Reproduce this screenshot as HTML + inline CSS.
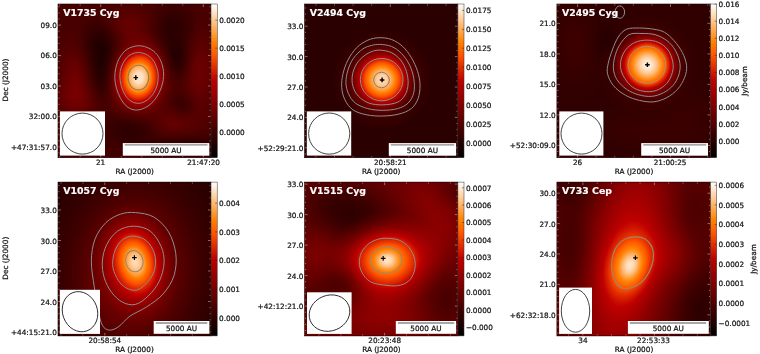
<!DOCTYPE html>
<html><head><meta charset="utf-8"><title>FUor continuum maps</title>
<style>html,body{margin:0;padding:0;background:#fff}svg{display:block}text{font-family:"DejaVu Sans", "Liberation Sans", sans-serif;stroke:#111;stroke-width:0.22px}text.w{stroke:#fff;stroke-width:0.15px}</style></head>
<body><svg width="760" height="354" viewBox="0 0 760 354">
<defs><clipPath id="c0"><rect x="58.0" y="4" width="153.0" height="153.7"/></clipPath><radialGradient id="g1" cx="0" cy="0" r="3" gradientUnits="userSpaceOnUse"><stop offset="0.0000" stop-color="#fff" stop-opacity="0.1300"/><stop offset="0.0333" stop-color="#fff" stop-opacity="0.1294"/><stop offset="0.0667" stop-color="#fff" stop-opacity="0.1274"/><stop offset="0.1000" stop-color="#fff" stop-opacity="0.1243"/><stop offset="0.1333" stop-color="#fff" stop-opacity="0.1200"/><stop offset="0.1667" stop-color="#fff" stop-opacity="0.1147"/><stop offset="0.2000" stop-color="#fff" stop-opacity="0.1086"/><stop offset="0.2333" stop-color="#fff" stop-opacity="0.1018"/><stop offset="0.2667" stop-color="#fff" stop-opacity="0.0944"/><stop offset="0.3000" stop-color="#fff" stop-opacity="0.0867"/><stop offset="0.3333" stop-color="#fff" stop-opacity="0.0788"/><stop offset="0.3667" stop-color="#fff" stop-opacity="0.0710"/><stop offset="0.4000" stop-color="#fff" stop-opacity="0.0633"/><stop offset="0.4333" stop-color="#fff" stop-opacity="0.0558"/><stop offset="0.4667" stop-color="#fff" stop-opacity="0.0488"/><stop offset="0.5000" stop-color="#fff" stop-opacity="0.0422"/><stop offset="0.5333" stop-color="#fff" stop-opacity="0.0361"/><stop offset="0.5667" stop-color="#fff" stop-opacity="0.0306"/><stop offset="0.6000" stop-color="#fff" stop-opacity="0.0257"/><stop offset="0.6333" stop-color="#fff" stop-opacity="0.0214"/><stop offset="0.6667" stop-color="#fff" stop-opacity="0.0176"/><stop offset="0.7000" stop-color="#fff" stop-opacity="0.0143"/><stop offset="0.7333" stop-color="#fff" stop-opacity="0.0116"/><stop offset="0.7667" stop-color="#fff" stop-opacity="0.0092"/><stop offset="0.8000" stop-color="#fff" stop-opacity="0.0073"/><stop offset="0.8333" stop-color="#fff" stop-opacity="0.0057"/><stop offset="0.8667" stop-color="#fff" stop-opacity="0.0044"/><stop offset="0.9000" stop-color="#fff" stop-opacity="0.0034"/><stop offset="0.9333" stop-color="#fff" stop-opacity="0.0026"/><stop offset="0.9667" stop-color="#fff" stop-opacity="0.0019"/><stop offset="1.0000" stop-color="#fff" stop-opacity="0.0000"/></radialGradient><radialGradient id="g2" cx="0" cy="0" r="3" gradientUnits="userSpaceOnUse"><stop offset="0.0000" stop-color="#fff" stop-opacity="0.1100"/><stop offset="0.0333" stop-color="#fff" stop-opacity="0.1095"/><stop offset="0.0667" stop-color="#fff" stop-opacity="0.1078"/><stop offset="0.1000" stop-color="#fff" stop-opacity="0.1052"/><stop offset="0.1333" stop-color="#fff" stop-opacity="0.1015"/><stop offset="0.1667" stop-color="#fff" stop-opacity="0.0971"/><stop offset="0.2000" stop-color="#fff" stop-opacity="0.0919"/><stop offset="0.2333" stop-color="#fff" stop-opacity="0.0861"/><stop offset="0.2667" stop-color="#fff" stop-opacity="0.0799"/><stop offset="0.3000" stop-color="#fff" stop-opacity="0.0734"/><stop offset="0.3333" stop-color="#fff" stop-opacity="0.0667"/><stop offset="0.3667" stop-color="#fff" stop-opacity="0.0601"/><stop offset="0.4000" stop-color="#fff" stop-opacity="0.0535"/><stop offset="0.4333" stop-color="#fff" stop-opacity="0.0473"/><stop offset="0.4667" stop-color="#fff" stop-opacity="0.0413"/><stop offset="0.5000" stop-color="#fff" stop-opacity="0.0357"/><stop offset="0.5333" stop-color="#fff" stop-opacity="0.0306"/><stop offset="0.5667" stop-color="#fff" stop-opacity="0.0259"/><stop offset="0.6000" stop-color="#fff" stop-opacity="0.0218"/><stop offset="0.6333" stop-color="#fff" stop-opacity="0.0181"/><stop offset="0.6667" stop-color="#fff" stop-opacity="0.0149"/><stop offset="0.7000" stop-color="#fff" stop-opacity="0.0121"/><stop offset="0.7333" stop-color="#fff" stop-opacity="0.0098"/><stop offset="0.7667" stop-color="#fff" stop-opacity="0.0078"/><stop offset="0.8000" stop-color="#fff" stop-opacity="0.0062"/><stop offset="0.8333" stop-color="#fff" stop-opacity="0.0048"/><stop offset="0.8667" stop-color="#fff" stop-opacity="0.0037"/><stop offset="0.9000" stop-color="#fff" stop-opacity="0.0029"/><stop offset="0.9333" stop-color="#fff" stop-opacity="0.0022"/><stop offset="0.9667" stop-color="#fff" stop-opacity="0.0016"/><stop offset="1.0000" stop-color="#fff" stop-opacity="0.0000"/></radialGradient><radialGradient id="g3" cx="0" cy="0" r="3" gradientUnits="userSpaceOnUse"><stop offset="0.0000" stop-color="#fff" stop-opacity="0.1200"/><stop offset="0.0333" stop-color="#fff" stop-opacity="0.1194"/><stop offset="0.0667" stop-color="#fff" stop-opacity="0.1176"/><stop offset="0.1000" stop-color="#fff" stop-opacity="0.1147"/><stop offset="0.1333" stop-color="#fff" stop-opacity="0.1108"/><stop offset="0.1667" stop-color="#fff" stop-opacity="0.1059"/><stop offset="0.2000" stop-color="#fff" stop-opacity="0.1002"/><stop offset="0.2333" stop-color="#fff" stop-opacity="0.0939"/><stop offset="0.2667" stop-color="#fff" stop-opacity="0.0871"/><stop offset="0.3000" stop-color="#fff" stop-opacity="0.0800"/><stop offset="0.3333" stop-color="#fff" stop-opacity="0.0728"/><stop offset="0.3667" stop-color="#fff" stop-opacity="0.0655"/><stop offset="0.4000" stop-color="#fff" stop-opacity="0.0584"/><stop offset="0.4333" stop-color="#fff" stop-opacity="0.0515"/><stop offset="0.4667" stop-color="#fff" stop-opacity="0.0450"/><stop offset="0.5000" stop-color="#fff" stop-opacity="0.0390"/><stop offset="0.5333" stop-color="#fff" stop-opacity="0.0334"/><stop offset="0.5667" stop-color="#fff" stop-opacity="0.0283"/><stop offset="0.6000" stop-color="#fff" stop-opacity="0.0237"/><stop offset="0.6333" stop-color="#fff" stop-opacity="0.0197"/><stop offset="0.6667" stop-color="#fff" stop-opacity="0.0162"/><stop offset="0.7000" stop-color="#fff" stop-opacity="0.0132"/><stop offset="0.7333" stop-color="#fff" stop-opacity="0.0107"/><stop offset="0.7667" stop-color="#fff" stop-opacity="0.0085"/><stop offset="0.8000" stop-color="#fff" stop-opacity="0.0067"/><stop offset="0.8333" stop-color="#fff" stop-opacity="0.0053"/><stop offset="0.8667" stop-color="#fff" stop-opacity="0.0041"/><stop offset="0.9000" stop-color="#fff" stop-opacity="0.0031"/><stop offset="0.9333" stop-color="#fff" stop-opacity="0.0024"/><stop offset="0.9667" stop-color="#fff" stop-opacity="0.0018"/><stop offset="1.0000" stop-color="#fff" stop-opacity="0.0000"/></radialGradient><radialGradient id="g4" cx="0" cy="0" r="3" gradientUnits="userSpaceOnUse"><stop offset="0.0000" stop-color="#fff" stop-opacity="0.1000"/><stop offset="0.0333" stop-color="#fff" stop-opacity="0.0995"/><stop offset="0.0667" stop-color="#fff" stop-opacity="0.0980"/><stop offset="0.1000" stop-color="#fff" stop-opacity="0.0956"/><stop offset="0.1333" stop-color="#fff" stop-opacity="0.0923"/><stop offset="0.1667" stop-color="#fff" stop-opacity="0.0882"/><stop offset="0.2000" stop-color="#fff" stop-opacity="0.0835"/><stop offset="0.2333" stop-color="#fff" stop-opacity="0.0783"/><stop offset="0.2667" stop-color="#fff" stop-opacity="0.0726"/><stop offset="0.3000" stop-color="#fff" stop-opacity="0.0667"/><stop offset="0.3333" stop-color="#fff" stop-opacity="0.0607"/><stop offset="0.3667" stop-color="#fff" stop-opacity="0.0546"/><stop offset="0.4000" stop-color="#fff" stop-opacity="0.0487"/><stop offset="0.4333" stop-color="#fff" stop-opacity="0.0430"/><stop offset="0.4667" stop-color="#fff" stop-opacity="0.0375"/><stop offset="0.5000" stop-color="#fff" stop-opacity="0.0325"/><stop offset="0.5333" stop-color="#fff" stop-opacity="0.0278"/><stop offset="0.5667" stop-color="#fff" stop-opacity="0.0236"/><stop offset="0.6000" stop-color="#fff" stop-opacity="0.0198"/><stop offset="0.6333" stop-color="#fff" stop-opacity="0.0164"/><stop offset="0.6667" stop-color="#fff" stop-opacity="0.0135"/><stop offset="0.7000" stop-color="#fff" stop-opacity="0.0110"/><stop offset="0.7333" stop-color="#fff" stop-opacity="0.0089"/><stop offset="0.7667" stop-color="#fff" stop-opacity="0.0071"/><stop offset="0.8000" stop-color="#fff" stop-opacity="0.0056"/><stop offset="0.8333" stop-color="#fff" stop-opacity="0.0044"/><stop offset="0.8667" stop-color="#fff" stop-opacity="0.0034"/><stop offset="0.9000" stop-color="#fff" stop-opacity="0.0026"/><stop offset="0.9333" stop-color="#fff" stop-opacity="0.0020"/><stop offset="0.9667" stop-color="#fff" stop-opacity="0.0015"/><stop offset="1.0000" stop-color="#fff" stop-opacity="0.0000"/></radialGradient><radialGradient id="g5" cx="0" cy="0" r="3" gradientUnits="userSpaceOnUse"><stop offset="0.0000" stop-color="#fff" stop-opacity="0.0700"/><stop offset="0.0333" stop-color="#fff" stop-opacity="0.0697"/><stop offset="0.0667" stop-color="#fff" stop-opacity="0.0686"/><stop offset="0.1000" stop-color="#fff" stop-opacity="0.0669"/><stop offset="0.1333" stop-color="#fff" stop-opacity="0.0646"/><stop offset="0.1667" stop-color="#fff" stop-opacity="0.0618"/><stop offset="0.2000" stop-color="#fff" stop-opacity="0.0585"/><stop offset="0.2333" stop-color="#fff" stop-opacity="0.0548"/><stop offset="0.2667" stop-color="#fff" stop-opacity="0.0508"/><stop offset="0.3000" stop-color="#fff" stop-opacity="0.0467"/><stop offset="0.3333" stop-color="#fff" stop-opacity="0.0425"/><stop offset="0.3667" stop-color="#fff" stop-opacity="0.0382"/><stop offset="0.4000" stop-color="#fff" stop-opacity="0.0341"/><stop offset="0.4333" stop-color="#fff" stop-opacity="0.0301"/><stop offset="0.4667" stop-color="#fff" stop-opacity="0.0263"/><stop offset="0.5000" stop-color="#fff" stop-opacity="0.0227"/><stop offset="0.5333" stop-color="#fff" stop-opacity="0.0195"/><stop offset="0.5667" stop-color="#fff" stop-opacity="0.0165"/><stop offset="0.6000" stop-color="#fff" stop-opacity="0.0139"/><stop offset="0.6333" stop-color="#fff" stop-opacity="0.0115"/><stop offset="0.6667" stop-color="#fff" stop-opacity="0.0095"/><stop offset="0.7000" stop-color="#fff" stop-opacity="0.0077"/><stop offset="0.7333" stop-color="#fff" stop-opacity="0.0062"/><stop offset="0.7667" stop-color="#fff" stop-opacity="0.0050"/><stop offset="0.8000" stop-color="#fff" stop-opacity="0.0039"/><stop offset="0.8333" stop-color="#fff" stop-opacity="0.0031"/><stop offset="0.8667" stop-color="#fff" stop-opacity="0.0024"/><stop offset="0.9000" stop-color="#fff" stop-opacity="0.0018"/><stop offset="0.9333" stop-color="#fff" stop-opacity="0.0014"/><stop offset="0.9667" stop-color="#fff" stop-opacity="0.0010"/><stop offset="1.0000" stop-color="#fff" stop-opacity="0.0000"/></radialGradient><radialGradient id="g6" cx="0" cy="0" r="3" gradientUnits="userSpaceOnUse"><stop offset="0.0000" stop-color="#000" stop-opacity="0.5000"/><stop offset="0.0333" stop-color="#000" stop-opacity="0.4975"/><stop offset="0.0667" stop-color="#000" stop-opacity="0.4901"/><stop offset="0.1000" stop-color="#000" stop-opacity="0.4780"/><stop offset="0.1333" stop-color="#000" stop-opacity="0.4616"/><stop offset="0.1667" stop-color="#000" stop-opacity="0.4412"/><stop offset="0.2000" stop-color="#000" stop-opacity="0.4176"/><stop offset="0.2333" stop-color="#000" stop-opacity="0.3914"/><stop offset="0.2667" stop-color="#000" stop-opacity="0.3631"/><stop offset="0.3000" stop-color="#000" stop-opacity="0.3335"/><stop offset="0.3333" stop-color="#000" stop-opacity="0.3033"/><stop offset="0.3667" stop-color="#000" stop-opacity="0.2730"/><stop offset="0.4000" stop-color="#000" stop-opacity="0.2434"/><stop offset="0.4333" stop-color="#000" stop-opacity="0.2148"/><stop offset="0.4667" stop-color="#000" stop-opacity="0.1877"/><stop offset="0.5000" stop-color="#000" stop-opacity="0.1623"/><stop offset="0.5333" stop-color="#000" stop-opacity="0.1390"/><stop offset="0.5667" stop-color="#000" stop-opacity="0.1179"/><stop offset="0.6000" stop-color="#000" stop-opacity="0.0989"/><stop offset="0.6333" stop-color="#000" stop-opacity="0.0822"/><stop offset="0.6667" stop-color="#000" stop-opacity="0.0677"/><stop offset="0.7000" stop-color="#000" stop-opacity="0.0551"/><stop offset="0.7333" stop-color="#000" stop-opacity="0.0445"/><stop offset="0.7667" stop-color="#000" stop-opacity="0.0355"/><stop offset="0.8000" stop-color="#000" stop-opacity="0.0281"/><stop offset="0.8333" stop-color="#000" stop-opacity="0.0220"/><stop offset="0.8667" stop-color="#000" stop-opacity="0.0170"/><stop offset="0.9000" stop-color="#000" stop-opacity="0.0131"/><stop offset="0.9333" stop-color="#000" stop-opacity="0.0099"/><stop offset="0.9667" stop-color="#000" stop-opacity="0.0075"/><stop offset="1.0000" stop-color="#000" stop-opacity="0.0000"/></radialGradient><radialGradient id="g7" cx="0" cy="0" r="3" gradientUnits="userSpaceOnUse"><stop offset="0.0000" stop-color="#000" stop-opacity="0.5000"/><stop offset="0.0333" stop-color="#000" stop-opacity="0.4975"/><stop offset="0.0667" stop-color="#000" stop-opacity="0.4901"/><stop offset="0.1000" stop-color="#000" stop-opacity="0.4780"/><stop offset="0.1333" stop-color="#000" stop-opacity="0.4616"/><stop offset="0.1667" stop-color="#000" stop-opacity="0.4412"/><stop offset="0.2000" stop-color="#000" stop-opacity="0.4176"/><stop offset="0.2333" stop-color="#000" stop-opacity="0.3914"/><stop offset="0.2667" stop-color="#000" stop-opacity="0.3631"/><stop offset="0.3000" stop-color="#000" stop-opacity="0.3335"/><stop offset="0.3333" stop-color="#000" stop-opacity="0.3033"/><stop offset="0.3667" stop-color="#000" stop-opacity="0.2730"/><stop offset="0.4000" stop-color="#000" stop-opacity="0.2434"/><stop offset="0.4333" stop-color="#000" stop-opacity="0.2148"/><stop offset="0.4667" stop-color="#000" stop-opacity="0.1877"/><stop offset="0.5000" stop-color="#000" stop-opacity="0.1623"/><stop offset="0.5333" stop-color="#000" stop-opacity="0.1390"/><stop offset="0.5667" stop-color="#000" stop-opacity="0.1179"/><stop offset="0.6000" stop-color="#000" stop-opacity="0.0989"/><stop offset="0.6333" stop-color="#000" stop-opacity="0.0822"/><stop offset="0.6667" stop-color="#000" stop-opacity="0.0677"/><stop offset="0.7000" stop-color="#000" stop-opacity="0.0551"/><stop offset="0.7333" stop-color="#000" stop-opacity="0.0445"/><stop offset="0.7667" stop-color="#000" stop-opacity="0.0355"/><stop offset="0.8000" stop-color="#000" stop-opacity="0.0281"/><stop offset="0.8333" stop-color="#000" stop-opacity="0.0220"/><stop offset="0.8667" stop-color="#000" stop-opacity="0.0170"/><stop offset="0.9000" stop-color="#000" stop-opacity="0.0131"/><stop offset="0.9333" stop-color="#000" stop-opacity="0.0099"/><stop offset="0.9667" stop-color="#000" stop-opacity="0.0075"/><stop offset="1.0000" stop-color="#000" stop-opacity="0.0000"/></radialGradient><radialGradient id="g8" cx="0" cy="0" r="3" gradientUnits="userSpaceOnUse"><stop offset="0.0000" stop-color="#000" stop-opacity="0.4500"/><stop offset="0.0333" stop-color="#000" stop-opacity="0.4478"/><stop offset="0.0667" stop-color="#000" stop-opacity="0.4411"/><stop offset="0.1000" stop-color="#000" stop-opacity="0.4302"/><stop offset="0.1333" stop-color="#000" stop-opacity="0.4154"/><stop offset="0.1667" stop-color="#000" stop-opacity="0.3971"/><stop offset="0.2000" stop-color="#000" stop-opacity="0.3759"/><stop offset="0.2333" stop-color="#000" stop-opacity="0.3522"/><stop offset="0.2667" stop-color="#000" stop-opacity="0.3268"/><stop offset="0.3000" stop-color="#000" stop-opacity="0.3001"/><stop offset="0.3333" stop-color="#000" stop-opacity="0.2729"/><stop offset="0.3667" stop-color="#000" stop-opacity="0.2457"/><stop offset="0.4000" stop-color="#000" stop-opacity="0.2190"/><stop offset="0.4333" stop-color="#000" stop-opacity="0.1933"/><stop offset="0.4667" stop-color="#000" stop-opacity="0.1689"/><stop offset="0.5000" stop-color="#000" stop-opacity="0.1461"/><stop offset="0.5333" stop-color="#000" stop-opacity="0.1251"/><stop offset="0.5667" stop-color="#000" stop-opacity="0.1061"/><stop offset="0.6000" stop-color="#000" stop-opacity="0.0891"/><stop offset="0.6333" stop-color="#000" stop-opacity="0.0740"/><stop offset="0.6667" stop-color="#000" stop-opacity="0.0609"/><stop offset="0.7000" stop-color="#000" stop-opacity="0.0496"/><stop offset="0.7333" stop-color="#000" stop-opacity="0.0400"/><stop offset="0.7667" stop-color="#000" stop-opacity="0.0320"/><stop offset="0.8000" stop-color="#000" stop-opacity="0.0253"/><stop offset="0.8333" stop-color="#000" stop-opacity="0.0198"/><stop offset="0.8667" stop-color="#000" stop-opacity="0.0153"/><stop offset="0.9000" stop-color="#000" stop-opacity="0.0118"/><stop offset="0.9333" stop-color="#000" stop-opacity="0.0089"/><stop offset="0.9667" stop-color="#000" stop-opacity="0.0067"/><stop offset="1.0000" stop-color="#000" stop-opacity="0.0000"/></radialGradient><radialGradient id="g9" cx="0" cy="0" r="3" gradientUnits="userSpaceOnUse"><stop offset="0.0000" stop-color="#000" stop-opacity="0.5000"/><stop offset="0.0333" stop-color="#000" stop-opacity="0.4975"/><stop offset="0.0667" stop-color="#000" stop-opacity="0.4901"/><stop offset="0.1000" stop-color="#000" stop-opacity="0.4780"/><stop offset="0.1333" stop-color="#000" stop-opacity="0.4616"/><stop offset="0.1667" stop-color="#000" stop-opacity="0.4412"/><stop offset="0.2000" stop-color="#000" stop-opacity="0.4176"/><stop offset="0.2333" stop-color="#000" stop-opacity="0.3914"/><stop offset="0.2667" stop-color="#000" stop-opacity="0.3631"/><stop offset="0.3000" stop-color="#000" stop-opacity="0.3335"/><stop offset="0.3333" stop-color="#000" stop-opacity="0.3033"/><stop offset="0.3667" stop-color="#000" stop-opacity="0.2730"/><stop offset="0.4000" stop-color="#000" stop-opacity="0.2434"/><stop offset="0.4333" stop-color="#000" stop-opacity="0.2148"/><stop offset="0.4667" stop-color="#000" stop-opacity="0.1877"/><stop offset="0.5000" stop-color="#000" stop-opacity="0.1623"/><stop offset="0.5333" stop-color="#000" stop-opacity="0.1390"/><stop offset="0.5667" stop-color="#000" stop-opacity="0.1179"/><stop offset="0.6000" stop-color="#000" stop-opacity="0.0989"/><stop offset="0.6333" stop-color="#000" stop-opacity="0.0822"/><stop offset="0.6667" stop-color="#000" stop-opacity="0.0677"/><stop offset="0.7000" stop-color="#000" stop-opacity="0.0551"/><stop offset="0.7333" stop-color="#000" stop-opacity="0.0445"/><stop offset="0.7667" stop-color="#000" stop-opacity="0.0355"/><stop offset="0.8000" stop-color="#000" stop-opacity="0.0281"/><stop offset="0.8333" stop-color="#000" stop-opacity="0.0220"/><stop offset="0.8667" stop-color="#000" stop-opacity="0.0170"/><stop offset="0.9000" stop-color="#000" stop-opacity="0.0131"/><stop offset="0.9333" stop-color="#000" stop-opacity="0.0099"/><stop offset="0.9667" stop-color="#000" stop-opacity="0.0075"/><stop offset="1.0000" stop-color="#000" stop-opacity="0.0000"/></radialGradient><radialGradient id="g10" cx="0" cy="0" r="3" gradientUnits="userSpaceOnUse"><stop offset="0.0000" stop-color="#000" stop-opacity="0.4500"/><stop offset="0.0333" stop-color="#000" stop-opacity="0.4478"/><stop offset="0.0667" stop-color="#000" stop-opacity="0.4411"/><stop offset="0.1000" stop-color="#000" stop-opacity="0.4302"/><stop offset="0.1333" stop-color="#000" stop-opacity="0.4154"/><stop offset="0.1667" stop-color="#000" stop-opacity="0.3971"/><stop offset="0.2000" stop-color="#000" stop-opacity="0.3759"/><stop offset="0.2333" stop-color="#000" stop-opacity="0.3522"/><stop offset="0.2667" stop-color="#000" stop-opacity="0.3268"/><stop offset="0.3000" stop-color="#000" stop-opacity="0.3001"/><stop offset="0.3333" stop-color="#000" stop-opacity="0.2729"/><stop offset="0.3667" stop-color="#000" stop-opacity="0.2457"/><stop offset="0.4000" stop-color="#000" stop-opacity="0.2190"/><stop offset="0.4333" stop-color="#000" stop-opacity="0.1933"/><stop offset="0.4667" stop-color="#000" stop-opacity="0.1689"/><stop offset="0.5000" stop-color="#000" stop-opacity="0.1461"/><stop offset="0.5333" stop-color="#000" stop-opacity="0.1251"/><stop offset="0.5667" stop-color="#000" stop-opacity="0.1061"/><stop offset="0.6000" stop-color="#000" stop-opacity="0.0891"/><stop offset="0.6333" stop-color="#000" stop-opacity="0.0740"/><stop offset="0.6667" stop-color="#000" stop-opacity="0.0609"/><stop offset="0.7000" stop-color="#000" stop-opacity="0.0496"/><stop offset="0.7333" stop-color="#000" stop-opacity="0.0400"/><stop offset="0.7667" stop-color="#000" stop-opacity="0.0320"/><stop offset="0.8000" stop-color="#000" stop-opacity="0.0253"/><stop offset="0.8333" stop-color="#000" stop-opacity="0.0198"/><stop offset="0.8667" stop-color="#000" stop-opacity="0.0153"/><stop offset="0.9000" stop-color="#000" stop-opacity="0.0118"/><stop offset="0.9333" stop-color="#000" stop-opacity="0.0089"/><stop offset="0.9667" stop-color="#000" stop-opacity="0.0067"/><stop offset="1.0000" stop-color="#000" stop-opacity="0.0000"/></radialGradient><radialGradient id="g11" cx="0" cy="0" r="3" gradientUnits="userSpaceOnUse"><stop offset="0.0000" stop-color="#000" stop-opacity="0.3500"/><stop offset="0.0333" stop-color="#000" stop-opacity="0.3483"/><stop offset="0.0667" stop-color="#000" stop-opacity="0.3431"/><stop offset="0.1000" stop-color="#000" stop-opacity="0.3346"/><stop offset="0.1333" stop-color="#000" stop-opacity="0.3231"/><stop offset="0.1667" stop-color="#000" stop-opacity="0.3089"/><stop offset="0.2000" stop-color="#000" stop-opacity="0.2923"/><stop offset="0.2333" stop-color="#000" stop-opacity="0.2739"/><stop offset="0.2667" stop-color="#000" stop-opacity="0.2542"/><stop offset="0.3000" stop-color="#000" stop-opacity="0.2334"/><stop offset="0.3333" stop-color="#000" stop-opacity="0.2123"/><stop offset="0.3667" stop-color="#000" stop-opacity="0.1911"/><stop offset="0.4000" stop-color="#000" stop-opacity="0.1704"/><stop offset="0.4333" stop-color="#000" stop-opacity="0.1503"/><stop offset="0.4667" stop-color="#000" stop-opacity="0.1314"/><stop offset="0.5000" stop-color="#000" stop-opacity="0.1136"/><stop offset="0.5333" stop-color="#000" stop-opacity="0.0973"/><stop offset="0.5667" stop-color="#000" stop-opacity="0.0825"/><stop offset="0.6000" stop-color="#000" stop-opacity="0.0693"/><stop offset="0.6333" stop-color="#000" stop-opacity="0.0576"/><stop offset="0.6667" stop-color="#000" stop-opacity="0.0474"/><stop offset="0.7000" stop-color="#000" stop-opacity="0.0386"/><stop offset="0.7333" stop-color="#000" stop-opacity="0.0311"/><stop offset="0.7667" stop-color="#000" stop-opacity="0.0249"/><stop offset="0.8000" stop-color="#000" stop-opacity="0.0196"/><stop offset="0.8333" stop-color="#000" stop-opacity="0.0154"/><stop offset="0.8667" stop-color="#000" stop-opacity="0.0119"/><stop offset="0.9000" stop-color="#000" stop-opacity="0.0091"/><stop offset="0.9333" stop-color="#000" stop-opacity="0.0069"/><stop offset="0.9667" stop-color="#000" stop-opacity="0.0052"/><stop offset="1.0000" stop-color="#000" stop-opacity="0.0000"/></radialGradient><radialGradient id="g12" cx="0" cy="0" r="3" gradientUnits="userSpaceOnUse"><stop offset="0.0000" stop-color="#000" stop-opacity="0.3000"/><stop offset="0.0333" stop-color="#000" stop-opacity="0.2985"/><stop offset="0.0667" stop-color="#000" stop-opacity="0.2941"/><stop offset="0.1000" stop-color="#000" stop-opacity="0.2868"/><stop offset="0.1333" stop-color="#000" stop-opacity="0.2769"/><stop offset="0.1667" stop-color="#000" stop-opacity="0.2647"/><stop offset="0.2000" stop-color="#000" stop-opacity="0.2506"/><stop offset="0.2333" stop-color="#000" stop-opacity="0.2348"/><stop offset="0.2667" stop-color="#000" stop-opacity="0.2178"/><stop offset="0.3000" stop-color="#000" stop-opacity="0.2001"/><stop offset="0.3333" stop-color="#000" stop-opacity="0.1820"/><stop offset="0.3667" stop-color="#000" stop-opacity="0.1638"/><stop offset="0.4000" stop-color="#000" stop-opacity="0.1460"/><stop offset="0.4333" stop-color="#000" stop-opacity="0.1289"/><stop offset="0.4667" stop-color="#000" stop-opacity="0.1126"/><stop offset="0.5000" stop-color="#000" stop-opacity="0.0974"/><stop offset="0.5333" stop-color="#000" stop-opacity="0.0834"/><stop offset="0.5667" stop-color="#000" stop-opacity="0.0707"/><stop offset="0.6000" stop-color="#000" stop-opacity="0.0594"/><stop offset="0.6333" stop-color="#000" stop-opacity="0.0493"/><stop offset="0.6667" stop-color="#000" stop-opacity="0.0406"/><stop offset="0.7000" stop-color="#000" stop-opacity="0.0331"/><stop offset="0.7333" stop-color="#000" stop-opacity="0.0267"/><stop offset="0.7667" stop-color="#000" stop-opacity="0.0213"/><stop offset="0.8000" stop-color="#000" stop-opacity="0.0168"/><stop offset="0.8333" stop-color="#000" stop-opacity="0.0132"/><stop offset="0.8667" stop-color="#000" stop-opacity="0.0102"/><stop offset="0.9000" stop-color="#000" stop-opacity="0.0078"/><stop offset="0.9333" stop-color="#000" stop-opacity="0.0060"/><stop offset="0.9667" stop-color="#000" stop-opacity="0.0045"/><stop offset="1.0000" stop-color="#000" stop-opacity="0.0000"/></radialGradient><radialGradient id="g13" cx="0" cy="0" r="3" gradientUnits="userSpaceOnUse"><stop offset="0.0000" stop-color="#fff" stop-opacity="0.1000"/><stop offset="0.0333" stop-color="#fff" stop-opacity="0.0995"/><stop offset="0.0667" stop-color="#fff" stop-opacity="0.0980"/><stop offset="0.1000" stop-color="#fff" stop-opacity="0.0956"/><stop offset="0.1333" stop-color="#fff" stop-opacity="0.0923"/><stop offset="0.1667" stop-color="#fff" stop-opacity="0.0882"/><stop offset="0.2000" stop-color="#fff" stop-opacity="0.0835"/><stop offset="0.2333" stop-color="#fff" stop-opacity="0.0783"/><stop offset="0.2667" stop-color="#fff" stop-opacity="0.0726"/><stop offset="0.3000" stop-color="#fff" stop-opacity="0.0667"/><stop offset="0.3333" stop-color="#fff" stop-opacity="0.0607"/><stop offset="0.3667" stop-color="#fff" stop-opacity="0.0546"/><stop offset="0.4000" stop-color="#fff" stop-opacity="0.0487"/><stop offset="0.4333" stop-color="#fff" stop-opacity="0.0430"/><stop offset="0.4667" stop-color="#fff" stop-opacity="0.0375"/><stop offset="0.5000" stop-color="#fff" stop-opacity="0.0325"/><stop offset="0.5333" stop-color="#fff" stop-opacity="0.0278"/><stop offset="0.5667" stop-color="#fff" stop-opacity="0.0236"/><stop offset="0.6000" stop-color="#fff" stop-opacity="0.0198"/><stop offset="0.6333" stop-color="#fff" stop-opacity="0.0164"/><stop offset="0.6667" stop-color="#fff" stop-opacity="0.0135"/><stop offset="0.7000" stop-color="#fff" stop-opacity="0.0110"/><stop offset="0.7333" stop-color="#fff" stop-opacity="0.0089"/><stop offset="0.7667" stop-color="#fff" stop-opacity="0.0071"/><stop offset="0.8000" stop-color="#fff" stop-opacity="0.0056"/><stop offset="0.8333" stop-color="#fff" stop-opacity="0.0044"/><stop offset="0.8667" stop-color="#fff" stop-opacity="0.0034"/><stop offset="0.9000" stop-color="#fff" stop-opacity="0.0026"/><stop offset="0.9333" stop-color="#fff" stop-opacity="0.0020"/><stop offset="0.9667" stop-color="#fff" stop-opacity="0.0015"/><stop offset="1.0000" stop-color="#fff" stop-opacity="0.0000"/></radialGradient><radialGradient id="g14" cx="0" cy="0" r="40" gradientUnits="userSpaceOnUse"><stop offset="0.0000" stop-color="#fff" stop-opacity="0.9448"/><stop offset="0.1125" stop-color="#fff" stop-opacity="0.9202"/><stop offset="0.2250" stop-color="#fff" stop-opacity="0.8098"/><stop offset="0.3000" stop-color="#fff" stop-opacity="0.6933"/><stop offset="0.3625" stop-color="#fff" stop-opacity="0.5706"/><stop offset="0.4250" stop-color="#fff" stop-opacity="0.4847"/><stop offset="0.5000" stop-color="#fff" stop-opacity="0.3497"/><stop offset="0.5625" stop-color="#fff" stop-opacity="0.2638"/><stop offset="0.6750" stop-color="#fff" stop-opacity="0.1288"/><stop offset="0.8000" stop-color="#fff" stop-opacity="0.0491"/><stop offset="1.0000" stop-color="#fff" stop-opacity="0.0000"/></radialGradient><clipPath id="c1"><rect x="304.6" y="4" width="153.29999999999995" height="153.7"/></clipPath><radialGradient id="g15" cx="0" cy="0" r="54" gradientUnits="userSpaceOnUse"><stop offset="0.0000" stop-color="#fff" stop-opacity="0.9270"/><stop offset="0.0741" stop-color="#fff" stop-opacity="0.9045"/><stop offset="0.1481" stop-color="#fff" stop-opacity="0.8427"/><stop offset="0.2407" stop-color="#fff" stop-opacity="0.7303"/><stop offset="0.3333" stop-color="#fff" stop-opacity="0.5843"/><stop offset="0.4000" stop-color="#fff" stop-opacity="0.4607"/><stop offset="0.4630" stop-color="#fff" stop-opacity="0.3258"/><stop offset="0.5556" stop-color="#fff" stop-opacity="0.1798"/><stop offset="0.6481" stop-color="#fff" stop-opacity="0.0899"/><stop offset="0.7407" stop-color="#fff" stop-opacity="0.0449"/><stop offset="0.8519" stop-color="#fff" stop-opacity="0.0169"/><stop offset="1.0000" stop-color="#fff" stop-opacity="0.0000"/></radialGradient><clipPath id="c2"><rect x="556.9" y="4" width="153.60000000000002" height="153.7"/></clipPath><radialGradient id="g16" cx="0" cy="0" r="3" gradientUnits="userSpaceOnUse"><stop offset="0.0000" stop-color="#fff" stop-opacity="0.0400"/><stop offset="0.0333" stop-color="#fff" stop-opacity="0.0398"/><stop offset="0.0667" stop-color="#fff" stop-opacity="0.0392"/><stop offset="0.1000" stop-color="#fff" stop-opacity="0.0382"/><stop offset="0.1333" stop-color="#fff" stop-opacity="0.0369"/><stop offset="0.1667" stop-color="#fff" stop-opacity="0.0353"/><stop offset="0.2000" stop-color="#fff" stop-opacity="0.0334"/><stop offset="0.2333" stop-color="#fff" stop-opacity="0.0313"/><stop offset="0.2667" stop-color="#fff" stop-opacity="0.0290"/><stop offset="0.3000" stop-color="#fff" stop-opacity="0.0267"/><stop offset="0.3333" stop-color="#fff" stop-opacity="0.0243"/><stop offset="0.3667" stop-color="#fff" stop-opacity="0.0218"/><stop offset="0.4000" stop-color="#fff" stop-opacity="0.0195"/><stop offset="0.4333" stop-color="#fff" stop-opacity="0.0172"/><stop offset="0.4667" stop-color="#fff" stop-opacity="0.0150"/><stop offset="0.5000" stop-color="#fff" stop-opacity="0.0130"/><stop offset="0.5333" stop-color="#fff" stop-opacity="0.0111"/><stop offset="0.5667" stop-color="#fff" stop-opacity="0.0094"/><stop offset="0.6000" stop-color="#fff" stop-opacity="0.0079"/><stop offset="0.6333" stop-color="#fff" stop-opacity="0.0066"/><stop offset="0.6667" stop-color="#fff" stop-opacity="0.0054"/><stop offset="0.7000" stop-color="#fff" stop-opacity="0.0044"/><stop offset="0.7333" stop-color="#fff" stop-opacity="0.0036"/><stop offset="0.7667" stop-color="#fff" stop-opacity="0.0028"/><stop offset="0.8000" stop-color="#fff" stop-opacity="0.0022"/><stop offset="0.8333" stop-color="#fff" stop-opacity="0.0018"/><stop offset="0.8667" stop-color="#fff" stop-opacity="0.0014"/><stop offset="0.9000" stop-color="#fff" stop-opacity="0.0010"/><stop offset="0.9333" stop-color="#fff" stop-opacity="0.0008"/><stop offset="0.9667" stop-color="#fff" stop-opacity="0.0006"/><stop offset="1.0000" stop-color="#fff" stop-opacity="0.0000"/></radialGradient><radialGradient id="g17" cx="0" cy="0" r="3" gradientUnits="userSpaceOnUse"><stop offset="0.0000" stop-color="#fff" stop-opacity="0.0300"/><stop offset="0.0333" stop-color="#fff" stop-opacity="0.0299"/><stop offset="0.0667" stop-color="#fff" stop-opacity="0.0294"/><stop offset="0.1000" stop-color="#fff" stop-opacity="0.0287"/><stop offset="0.1333" stop-color="#fff" stop-opacity="0.0277"/><stop offset="0.1667" stop-color="#fff" stop-opacity="0.0265"/><stop offset="0.2000" stop-color="#fff" stop-opacity="0.0251"/><stop offset="0.2333" stop-color="#fff" stop-opacity="0.0235"/><stop offset="0.2667" stop-color="#fff" stop-opacity="0.0218"/><stop offset="0.3000" stop-color="#fff" stop-opacity="0.0200"/><stop offset="0.3333" stop-color="#fff" stop-opacity="0.0182"/><stop offset="0.3667" stop-color="#fff" stop-opacity="0.0164"/><stop offset="0.4000" stop-color="#fff" stop-opacity="0.0146"/><stop offset="0.4333" stop-color="#fff" stop-opacity="0.0129"/><stop offset="0.4667" stop-color="#fff" stop-opacity="0.0113"/><stop offset="0.5000" stop-color="#fff" stop-opacity="0.0097"/><stop offset="0.5333" stop-color="#fff" stop-opacity="0.0083"/><stop offset="0.5667" stop-color="#fff" stop-opacity="0.0071"/><stop offset="0.6000" stop-color="#fff" stop-opacity="0.0059"/><stop offset="0.6333" stop-color="#fff" stop-opacity="0.0049"/><stop offset="0.6667" stop-color="#fff" stop-opacity="0.0041"/><stop offset="0.7000" stop-color="#fff" stop-opacity="0.0033"/><stop offset="0.7333" stop-color="#fff" stop-opacity="0.0027"/><stop offset="0.7667" stop-color="#fff" stop-opacity="0.0021"/><stop offset="0.8000" stop-color="#fff" stop-opacity="0.0017"/><stop offset="0.8333" stop-color="#fff" stop-opacity="0.0013"/><stop offset="0.8667" stop-color="#fff" stop-opacity="0.0010"/><stop offset="0.9000" stop-color="#fff" stop-opacity="0.0008"/><stop offset="0.9333" stop-color="#fff" stop-opacity="0.0006"/><stop offset="0.9667" stop-color="#fff" stop-opacity="0.0004"/><stop offset="1.0000" stop-color="#fff" stop-opacity="0.0000"/></radialGradient><radialGradient id="g18" cx="0" cy="0" r="3" gradientUnits="userSpaceOnUse"><stop offset="0.0000" stop-color="#fff" stop-opacity="0.0300"/><stop offset="0.0333" stop-color="#fff" stop-opacity="0.0299"/><stop offset="0.0667" stop-color="#fff" stop-opacity="0.0294"/><stop offset="0.1000" stop-color="#fff" stop-opacity="0.0287"/><stop offset="0.1333" stop-color="#fff" stop-opacity="0.0277"/><stop offset="0.1667" stop-color="#fff" stop-opacity="0.0265"/><stop offset="0.2000" stop-color="#fff" stop-opacity="0.0251"/><stop offset="0.2333" stop-color="#fff" stop-opacity="0.0235"/><stop offset="0.2667" stop-color="#fff" stop-opacity="0.0218"/><stop offset="0.3000" stop-color="#fff" stop-opacity="0.0200"/><stop offset="0.3333" stop-color="#fff" stop-opacity="0.0182"/><stop offset="0.3667" stop-color="#fff" stop-opacity="0.0164"/><stop offset="0.4000" stop-color="#fff" stop-opacity="0.0146"/><stop offset="0.4333" stop-color="#fff" stop-opacity="0.0129"/><stop offset="0.4667" stop-color="#fff" stop-opacity="0.0113"/><stop offset="0.5000" stop-color="#fff" stop-opacity="0.0097"/><stop offset="0.5333" stop-color="#fff" stop-opacity="0.0083"/><stop offset="0.5667" stop-color="#fff" stop-opacity="0.0071"/><stop offset="0.6000" stop-color="#fff" stop-opacity="0.0059"/><stop offset="0.6333" stop-color="#fff" stop-opacity="0.0049"/><stop offset="0.6667" stop-color="#fff" stop-opacity="0.0041"/><stop offset="0.7000" stop-color="#fff" stop-opacity="0.0033"/><stop offset="0.7333" stop-color="#fff" stop-opacity="0.0027"/><stop offset="0.7667" stop-color="#fff" stop-opacity="0.0021"/><stop offset="0.8000" stop-color="#fff" stop-opacity="0.0017"/><stop offset="0.8333" stop-color="#fff" stop-opacity="0.0013"/><stop offset="0.8667" stop-color="#fff" stop-opacity="0.0010"/><stop offset="0.9000" stop-color="#fff" stop-opacity="0.0008"/><stop offset="0.9333" stop-color="#fff" stop-opacity="0.0006"/><stop offset="0.9667" stop-color="#fff" stop-opacity="0.0004"/><stop offset="1.0000" stop-color="#fff" stop-opacity="0.0000"/></radialGradient><radialGradient id="g19" cx="0" cy="0" r="3" gradientUnits="userSpaceOnUse"><stop offset="0.0000" stop-color="#000" stop-opacity="0.2500"/><stop offset="0.0333" stop-color="#000" stop-opacity="0.2488"/><stop offset="0.0667" stop-color="#000" stop-opacity="0.2450"/><stop offset="0.1000" stop-color="#000" stop-opacity="0.2390"/><stop offset="0.1333" stop-color="#000" stop-opacity="0.2308"/><stop offset="0.1667" stop-color="#000" stop-opacity="0.2206"/><stop offset="0.2000" stop-color="#000" stop-opacity="0.2088"/><stop offset="0.2333" stop-color="#000" stop-opacity="0.1957"/><stop offset="0.2667" stop-color="#000" stop-opacity="0.1815"/><stop offset="0.3000" stop-color="#000" stop-opacity="0.1667"/><stop offset="0.3333" stop-color="#000" stop-opacity="0.1516"/><stop offset="0.3667" stop-color="#000" stop-opacity="0.1365"/><stop offset="0.4000" stop-color="#000" stop-opacity="0.1217"/><stop offset="0.4333" stop-color="#000" stop-opacity="0.1074"/><stop offset="0.4667" stop-color="#000" stop-opacity="0.0938"/><stop offset="0.5000" stop-color="#000" stop-opacity="0.0812"/><stop offset="0.5333" stop-color="#000" stop-opacity="0.0695"/><stop offset="0.5667" stop-color="#000" stop-opacity="0.0589"/><stop offset="0.6000" stop-color="#000" stop-opacity="0.0495"/><stop offset="0.6333" stop-color="#000" stop-opacity="0.0411"/><stop offset="0.6667" stop-color="#000" stop-opacity="0.0338"/><stop offset="0.7000" stop-color="#000" stop-opacity="0.0276"/><stop offset="0.7333" stop-color="#000" stop-opacity="0.0222"/><stop offset="0.7667" stop-color="#000" stop-opacity="0.0178"/><stop offset="0.8000" stop-color="#000" stop-opacity="0.0140"/><stop offset="0.8333" stop-color="#000" stop-opacity="0.0110"/><stop offset="0.8667" stop-color="#000" stop-opacity="0.0085"/><stop offset="0.9000" stop-color="#000" stop-opacity="0.0065"/><stop offset="0.9333" stop-color="#000" stop-opacity="0.0050"/><stop offset="0.9667" stop-color="#000" stop-opacity="0.0037"/><stop offset="1.0000" stop-color="#000" stop-opacity="0.0000"/></radialGradient><radialGradient id="g20" cx="0" cy="0" r="52" gradientUnits="userSpaceOnUse"><stop offset="0.0000" stop-color="#fff" stop-opacity="0.9714"/><stop offset="0.0769" stop-color="#fff" stop-opacity="0.9486"/><stop offset="0.1346" stop-color="#fff" stop-opacity="0.9029"/><stop offset="0.1923" stop-color="#fff" stop-opacity="0.8457"/><stop offset="0.2500" stop-color="#fff" stop-opacity="0.7771"/><stop offset="0.3077" stop-color="#fff" stop-opacity="0.7029"/><stop offset="0.3558" stop-color="#fff" stop-opacity="0.6286"/><stop offset="0.4038" stop-color="#fff" stop-opacity="0.5200"/><stop offset="0.4615" stop-color="#fff" stop-opacity="0.3943"/><stop offset="0.5192" stop-color="#fff" stop-opacity="0.2800"/><stop offset="0.5769" stop-color="#fff" stop-opacity="0.1886"/><stop offset="0.6346" stop-color="#fff" stop-opacity="0.1143"/><stop offset="0.6923" stop-color="#fff" stop-opacity="0.0629"/><stop offset="0.7500" stop-color="#fff" stop-opacity="0.0343"/><stop offset="0.8654" stop-color="#fff" stop-opacity="0.0114"/><stop offset="1.0000" stop-color="#fff" stop-opacity="0.0000"/></radialGradient><clipPath id="c3"><rect x="58.0" y="182.1" width="153.0" height="153.79999999999998"/></clipPath><radialGradient id="g21" cx="0" cy="0" r="3" gradientUnits="userSpaceOnUse"><stop offset="0.0000" stop-color="#fff" stop-opacity="0.3100"/><stop offset="0.0333" stop-color="#fff" stop-opacity="0.3085"/><stop offset="0.0667" stop-color="#fff" stop-opacity="0.3039"/><stop offset="0.1000" stop-color="#fff" stop-opacity="0.2964"/><stop offset="0.1333" stop-color="#fff" stop-opacity="0.2862"/><stop offset="0.1667" stop-color="#fff" stop-opacity="0.2736"/><stop offset="0.2000" stop-color="#fff" stop-opacity="0.2589"/><stop offset="0.2333" stop-color="#fff" stop-opacity="0.2426"/><stop offset="0.2667" stop-color="#fff" stop-opacity="0.2251"/><stop offset="0.3000" stop-color="#fff" stop-opacity="0.2068"/><stop offset="0.3333" stop-color="#fff" stop-opacity="0.1880"/><stop offset="0.3667" stop-color="#fff" stop-opacity="0.1693"/><stop offset="0.4000" stop-color="#fff" stop-opacity="0.1509"/><stop offset="0.4333" stop-color="#fff" stop-opacity="0.1332"/><stop offset="0.4667" stop-color="#fff" stop-opacity="0.1163"/><stop offset="0.5000" stop-color="#fff" stop-opacity="0.1006"/><stop offset="0.5333" stop-color="#fff" stop-opacity="0.0862"/><stop offset="0.5667" stop-color="#fff" stop-opacity="0.0731"/><stop offset="0.6000" stop-color="#fff" stop-opacity="0.0613"/><stop offset="0.6333" stop-color="#fff" stop-opacity="0.0510"/><stop offset="0.6667" stop-color="#fff" stop-opacity="0.0420"/><stop offset="0.7000" stop-color="#fff" stop-opacity="0.0342"/><stop offset="0.7333" stop-color="#fff" stop-opacity="0.0276"/><stop offset="0.7667" stop-color="#fff" stop-opacity="0.0220"/><stop offset="0.8000" stop-color="#fff" stop-opacity="0.0174"/><stop offset="0.8333" stop-color="#fff" stop-opacity="0.0136"/><stop offset="0.8667" stop-color="#fff" stop-opacity="0.0106"/><stop offset="0.9000" stop-color="#fff" stop-opacity="0.0081"/><stop offset="0.9333" stop-color="#fff" stop-opacity="0.0062"/><stop offset="0.9667" stop-color="#fff" stop-opacity="0.0046"/><stop offset="1.0000" stop-color="#fff" stop-opacity="0.0000"/></radialGradient><radialGradient id="g22" cx="0" cy="0" r="44" gradientUnits="userSpaceOnUse"><stop offset="0.0000" stop-color="#fff" stop-opacity="0.8952"/><stop offset="0.0682" stop-color="#fff" stop-opacity="0.8629"/><stop offset="0.1364" stop-color="#fff" stop-opacity="0.7903"/><stop offset="0.2045" stop-color="#fff" stop-opacity="0.6935"/><stop offset="0.2727" stop-color="#fff" stop-opacity="0.5806"/><stop offset="0.3409" stop-color="#fff" stop-opacity="0.4758"/><stop offset="0.4091" stop-color="#fff" stop-opacity="0.3790"/><stop offset="0.5000" stop-color="#fff" stop-opacity="0.2661"/><stop offset="0.5909" stop-color="#fff" stop-opacity="0.1613"/><stop offset="0.7045" stop-color="#fff" stop-opacity="0.0806"/><stop offset="0.8409" stop-color="#fff" stop-opacity="0.0242"/><stop offset="1.0000" stop-color="#fff" stop-opacity="0.0000"/></radialGradient><clipPath id="c4"><rect x="304.6" y="182.1" width="153.29999999999995" height="153.79999999999998"/></clipPath><radialGradient id="g23" cx="0" cy="0" r="3" gradientUnits="userSpaceOnUse"><stop offset="0.0000" stop-color="#000" stop-opacity="0.6000"/><stop offset="0.0333" stop-color="#000" stop-opacity="0.5970"/><stop offset="0.0667" stop-color="#000" stop-opacity="0.5881"/><stop offset="0.1000" stop-color="#000" stop-opacity="0.5736"/><stop offset="0.1333" stop-color="#000" stop-opacity="0.5539"/><stop offset="0.1667" stop-color="#000" stop-opacity="0.5295"/><stop offset="0.2000" stop-color="#000" stop-opacity="0.5012"/><stop offset="0.2333" stop-color="#000" stop-opacity="0.4696"/><stop offset="0.2667" stop-color="#000" stop-opacity="0.4357"/><stop offset="0.3000" stop-color="#000" stop-opacity="0.4002"/><stop offset="0.3333" stop-color="#000" stop-opacity="0.3639"/><stop offset="0.3667" stop-color="#000" stop-opacity="0.3276"/><stop offset="0.4000" stop-color="#000" stop-opacity="0.2921"/><stop offset="0.4333" stop-color="#000" stop-opacity="0.2577"/><stop offset="0.4667" stop-color="#000" stop-opacity="0.2252"/><stop offset="0.5000" stop-color="#000" stop-opacity="0.1948"/><stop offset="0.5333" stop-color="#000" stop-opacity="0.1668"/><stop offset="0.5667" stop-color="#000" stop-opacity="0.1414"/><stop offset="0.6000" stop-color="#000" stop-opacity="0.1187"/><stop offset="0.6333" stop-color="#000" stop-opacity="0.0987"/><stop offset="0.6667" stop-color="#000" stop-opacity="0.0812"/><stop offset="0.7000" stop-color="#000" stop-opacity="0.0662"/><stop offset="0.7333" stop-color="#000" stop-opacity="0.0534"/><stop offset="0.7667" stop-color="#000" stop-opacity="0.0426"/><stop offset="0.8000" stop-color="#000" stop-opacity="0.0337"/><stop offset="0.8333" stop-color="#000" stop-opacity="0.0264"/><stop offset="0.8667" stop-color="#000" stop-opacity="0.0204"/><stop offset="0.9000" stop-color="#000" stop-opacity="0.0157"/><stop offset="0.9333" stop-color="#000" stop-opacity="0.0119"/><stop offset="0.9667" stop-color="#000" stop-opacity="0.0090"/><stop offset="1.0000" stop-color="#000" stop-opacity="0.0000"/></radialGradient><radialGradient id="g24" cx="0" cy="0" r="3" gradientUnits="userSpaceOnUse"><stop offset="0.0000" stop-color="#000" stop-opacity="0.4200"/><stop offset="0.0333" stop-color="#000" stop-opacity="0.4179"/><stop offset="0.0667" stop-color="#000" stop-opacity="0.4117"/><stop offset="0.1000" stop-color="#000" stop-opacity="0.4015"/><stop offset="0.1333" stop-color="#000" stop-opacity="0.3877"/><stop offset="0.1667" stop-color="#000" stop-opacity="0.3706"/><stop offset="0.2000" stop-color="#000" stop-opacity="0.3508"/><stop offset="0.2333" stop-color="#000" stop-opacity="0.3287"/><stop offset="0.2667" stop-color="#000" stop-opacity="0.3050"/><stop offset="0.3000" stop-color="#000" stop-opacity="0.2801"/><stop offset="0.3333" stop-color="#000" stop-opacity="0.2547"/><stop offset="0.3667" stop-color="#000" stop-opacity="0.2294"/><stop offset="0.4000" stop-color="#000" stop-opacity="0.2044"/><stop offset="0.4333" stop-color="#000" stop-opacity="0.1804"/><stop offset="0.4667" stop-color="#000" stop-opacity="0.1576"/><stop offset="0.5000" stop-color="#000" stop-opacity="0.1364"/><stop offset="0.5333" stop-color="#000" stop-opacity="0.1168"/><stop offset="0.5667" stop-color="#000" stop-opacity="0.0990"/><stop offset="0.6000" stop-color="#000" stop-opacity="0.0831"/><stop offset="0.6333" stop-color="#000" stop-opacity="0.0691"/><stop offset="0.6667" stop-color="#000" stop-opacity="0.0568"/><stop offset="0.7000" stop-color="#000" stop-opacity="0.0463"/><stop offset="0.7333" stop-color="#000" stop-opacity="0.0373"/><stop offset="0.7667" stop-color="#000" stop-opacity="0.0298"/><stop offset="0.8000" stop-color="#000" stop-opacity="0.0236"/><stop offset="0.8333" stop-color="#000" stop-opacity="0.0185"/><stop offset="0.8667" stop-color="#000" stop-opacity="0.0143"/><stop offset="0.9000" stop-color="#000" stop-opacity="0.0110"/><stop offset="0.9333" stop-color="#000" stop-opacity="0.0083"/><stop offset="0.9667" stop-color="#000" stop-opacity="0.0063"/><stop offset="1.0000" stop-color="#000" stop-opacity="0.0000"/></radialGradient><radialGradient id="g25" cx="0" cy="0" r="3" gradientUnits="userSpaceOnUse"><stop offset="0.0000" stop-color="#000" stop-opacity="0.4000"/><stop offset="0.0333" stop-color="#000" stop-opacity="0.3980"/><stop offset="0.0667" stop-color="#000" stop-opacity="0.3921"/><stop offset="0.1000" stop-color="#000" stop-opacity="0.3824"/><stop offset="0.1333" stop-color="#000" stop-opacity="0.3692"/><stop offset="0.1667" stop-color="#000" stop-opacity="0.3530"/><stop offset="0.2000" stop-color="#000" stop-opacity="0.3341"/><stop offset="0.2333" stop-color="#000" stop-opacity="0.3131"/><stop offset="0.2667" stop-color="#000" stop-opacity="0.2905"/><stop offset="0.3000" stop-color="#000" stop-opacity="0.2668"/><stop offset="0.3333" stop-color="#000" stop-opacity="0.2426"/><stop offset="0.3667" stop-color="#000" stop-opacity="0.2184"/><stop offset="0.4000" stop-color="#000" stop-opacity="0.1947"/><stop offset="0.4333" stop-color="#000" stop-opacity="0.1718"/><stop offset="0.4667" stop-color="#000" stop-opacity="0.1501"/><stop offset="0.5000" stop-color="#000" stop-opacity="0.1299"/><stop offset="0.5333" stop-color="#000" stop-opacity="0.1112"/><stop offset="0.5667" stop-color="#000" stop-opacity="0.0943"/><stop offset="0.6000" stop-color="#000" stop-opacity="0.0792"/><stop offset="0.6333" stop-color="#000" stop-opacity="0.0658"/><stop offset="0.6667" stop-color="#000" stop-opacity="0.0541"/><stop offset="0.7000" stop-color="#000" stop-opacity="0.0441"/><stop offset="0.7333" stop-color="#000" stop-opacity="0.0356"/><stop offset="0.7667" stop-color="#000" stop-opacity="0.0284"/><stop offset="0.8000" stop-color="#000" stop-opacity="0.0225"/><stop offset="0.8333" stop-color="#000" stop-opacity="0.0176"/><stop offset="0.8667" stop-color="#000" stop-opacity="0.0136"/><stop offset="0.9000" stop-color="#000" stop-opacity="0.0104"/><stop offset="0.9333" stop-color="#000" stop-opacity="0.0079"/><stop offset="0.9667" stop-color="#000" stop-opacity="0.0060"/><stop offset="1.0000" stop-color="#000" stop-opacity="0.0000"/></radialGradient><radialGradient id="g26" cx="0" cy="0" r="3" gradientUnits="userSpaceOnUse"><stop offset="0.0000" stop-color="#000" stop-opacity="0.3000"/><stop offset="0.0333" stop-color="#000" stop-opacity="0.2985"/><stop offset="0.0667" stop-color="#000" stop-opacity="0.2941"/><stop offset="0.1000" stop-color="#000" stop-opacity="0.2868"/><stop offset="0.1333" stop-color="#000" stop-opacity="0.2769"/><stop offset="0.1667" stop-color="#000" stop-opacity="0.2647"/><stop offset="0.2000" stop-color="#000" stop-opacity="0.2506"/><stop offset="0.2333" stop-color="#000" stop-opacity="0.2348"/><stop offset="0.2667" stop-color="#000" stop-opacity="0.2178"/><stop offset="0.3000" stop-color="#000" stop-opacity="0.2001"/><stop offset="0.3333" stop-color="#000" stop-opacity="0.1820"/><stop offset="0.3667" stop-color="#000" stop-opacity="0.1638"/><stop offset="0.4000" stop-color="#000" stop-opacity="0.1460"/><stop offset="0.4333" stop-color="#000" stop-opacity="0.1289"/><stop offset="0.4667" stop-color="#000" stop-opacity="0.1126"/><stop offset="0.5000" stop-color="#000" stop-opacity="0.0974"/><stop offset="0.5333" stop-color="#000" stop-opacity="0.0834"/><stop offset="0.5667" stop-color="#000" stop-opacity="0.0707"/><stop offset="0.6000" stop-color="#000" stop-opacity="0.0594"/><stop offset="0.6333" stop-color="#000" stop-opacity="0.0493"/><stop offset="0.6667" stop-color="#000" stop-opacity="0.0406"/><stop offset="0.7000" stop-color="#000" stop-opacity="0.0331"/><stop offset="0.7333" stop-color="#000" stop-opacity="0.0267"/><stop offset="0.7667" stop-color="#000" stop-opacity="0.0213"/><stop offset="0.8000" stop-color="#000" stop-opacity="0.0168"/><stop offset="0.8333" stop-color="#000" stop-opacity="0.0132"/><stop offset="0.8667" stop-color="#000" stop-opacity="0.0102"/><stop offset="0.9000" stop-color="#000" stop-opacity="0.0078"/><stop offset="0.9333" stop-color="#000" stop-opacity="0.0060"/><stop offset="0.9667" stop-color="#000" stop-opacity="0.0045"/><stop offset="1.0000" stop-color="#000" stop-opacity="0.0000"/></radialGradient><radialGradient id="g27" cx="0" cy="0" r="3" gradientUnits="userSpaceOnUse"><stop offset="0.0000" stop-color="#000" stop-opacity="0.3500"/><stop offset="0.0333" stop-color="#000" stop-opacity="0.3483"/><stop offset="0.0667" stop-color="#000" stop-opacity="0.3431"/><stop offset="0.1000" stop-color="#000" stop-opacity="0.3346"/><stop offset="0.1333" stop-color="#000" stop-opacity="0.3231"/><stop offset="0.1667" stop-color="#000" stop-opacity="0.3089"/><stop offset="0.2000" stop-color="#000" stop-opacity="0.2923"/><stop offset="0.2333" stop-color="#000" stop-opacity="0.2739"/><stop offset="0.2667" stop-color="#000" stop-opacity="0.2542"/><stop offset="0.3000" stop-color="#000" stop-opacity="0.2334"/><stop offset="0.3333" stop-color="#000" stop-opacity="0.2123"/><stop offset="0.3667" stop-color="#000" stop-opacity="0.1911"/><stop offset="0.4000" stop-color="#000" stop-opacity="0.1704"/><stop offset="0.4333" stop-color="#000" stop-opacity="0.1503"/><stop offset="0.4667" stop-color="#000" stop-opacity="0.1314"/><stop offset="0.5000" stop-color="#000" stop-opacity="0.1136"/><stop offset="0.5333" stop-color="#000" stop-opacity="0.0973"/><stop offset="0.5667" stop-color="#000" stop-opacity="0.0825"/><stop offset="0.6000" stop-color="#000" stop-opacity="0.0693"/><stop offset="0.6333" stop-color="#000" stop-opacity="0.0576"/><stop offset="0.6667" stop-color="#000" stop-opacity="0.0474"/><stop offset="0.7000" stop-color="#000" stop-opacity="0.0386"/><stop offset="0.7333" stop-color="#000" stop-opacity="0.0311"/><stop offset="0.7667" stop-color="#000" stop-opacity="0.0249"/><stop offset="0.8000" stop-color="#000" stop-opacity="0.0196"/><stop offset="0.8333" stop-color="#000" stop-opacity="0.0154"/><stop offset="0.8667" stop-color="#000" stop-opacity="0.0119"/><stop offset="0.9000" stop-color="#000" stop-opacity="0.0091"/><stop offset="0.9333" stop-color="#000" stop-opacity="0.0069"/><stop offset="0.9667" stop-color="#000" stop-opacity="0.0052"/><stop offset="1.0000" stop-color="#000" stop-opacity="0.0000"/></radialGradient><radialGradient id="g28" cx="0" cy="0" r="3" gradientUnits="userSpaceOnUse"><stop offset="0.0000" stop-color="#fff" stop-opacity="0.1000"/><stop offset="0.0333" stop-color="#fff" stop-opacity="0.0995"/><stop offset="0.0667" stop-color="#fff" stop-opacity="0.0980"/><stop offset="0.1000" stop-color="#fff" stop-opacity="0.0956"/><stop offset="0.1333" stop-color="#fff" stop-opacity="0.0923"/><stop offset="0.1667" stop-color="#fff" stop-opacity="0.0882"/><stop offset="0.2000" stop-color="#fff" stop-opacity="0.0835"/><stop offset="0.2333" stop-color="#fff" stop-opacity="0.0783"/><stop offset="0.2667" stop-color="#fff" stop-opacity="0.0726"/><stop offset="0.3000" stop-color="#fff" stop-opacity="0.0667"/><stop offset="0.3333" stop-color="#fff" stop-opacity="0.0607"/><stop offset="0.3667" stop-color="#fff" stop-opacity="0.0546"/><stop offset="0.4000" stop-color="#fff" stop-opacity="0.0487"/><stop offset="0.4333" stop-color="#fff" stop-opacity="0.0430"/><stop offset="0.4667" stop-color="#fff" stop-opacity="0.0375"/><stop offset="0.5000" stop-color="#fff" stop-opacity="0.0325"/><stop offset="0.5333" stop-color="#fff" stop-opacity="0.0278"/><stop offset="0.5667" stop-color="#fff" stop-opacity="0.0236"/><stop offset="0.6000" stop-color="#fff" stop-opacity="0.0198"/><stop offset="0.6333" stop-color="#fff" stop-opacity="0.0164"/><stop offset="0.6667" stop-color="#fff" stop-opacity="0.0135"/><stop offset="0.7000" stop-color="#fff" stop-opacity="0.0110"/><stop offset="0.7333" stop-color="#fff" stop-opacity="0.0089"/><stop offset="0.7667" stop-color="#fff" stop-opacity="0.0071"/><stop offset="0.8000" stop-color="#fff" stop-opacity="0.0056"/><stop offset="0.8333" stop-color="#fff" stop-opacity="0.0044"/><stop offset="0.8667" stop-color="#fff" stop-opacity="0.0034"/><stop offset="0.9000" stop-color="#fff" stop-opacity="0.0026"/><stop offset="0.9333" stop-color="#fff" stop-opacity="0.0020"/><stop offset="0.9667" stop-color="#fff" stop-opacity="0.0015"/><stop offset="1.0000" stop-color="#fff" stop-opacity="0.0000"/></radialGradient><radialGradient id="g29" cx="0" cy="0" r="3" gradientUnits="userSpaceOnUse"><stop offset="0.0000" stop-color="#fff" stop-opacity="0.0600"/><stop offset="0.0333" stop-color="#fff" stop-opacity="0.0597"/><stop offset="0.0667" stop-color="#fff" stop-opacity="0.0588"/><stop offset="0.1000" stop-color="#fff" stop-opacity="0.0574"/><stop offset="0.1333" stop-color="#fff" stop-opacity="0.0554"/><stop offset="0.1667" stop-color="#fff" stop-opacity="0.0529"/><stop offset="0.2000" stop-color="#fff" stop-opacity="0.0501"/><stop offset="0.2333" stop-color="#fff" stop-opacity="0.0470"/><stop offset="0.2667" stop-color="#fff" stop-opacity="0.0436"/><stop offset="0.3000" stop-color="#fff" stop-opacity="0.0400"/><stop offset="0.3333" stop-color="#fff" stop-opacity="0.0364"/><stop offset="0.3667" stop-color="#fff" stop-opacity="0.0328"/><stop offset="0.4000" stop-color="#fff" stop-opacity="0.0292"/><stop offset="0.4333" stop-color="#fff" stop-opacity="0.0258"/><stop offset="0.4667" stop-color="#fff" stop-opacity="0.0225"/><stop offset="0.5000" stop-color="#fff" stop-opacity="0.0195"/><stop offset="0.5333" stop-color="#fff" stop-opacity="0.0167"/><stop offset="0.5667" stop-color="#fff" stop-opacity="0.0141"/><stop offset="0.6000" stop-color="#fff" stop-opacity="0.0119"/><stop offset="0.6333" stop-color="#fff" stop-opacity="0.0099"/><stop offset="0.6667" stop-color="#fff" stop-opacity="0.0081"/><stop offset="0.7000" stop-color="#fff" stop-opacity="0.0066"/><stop offset="0.7333" stop-color="#fff" stop-opacity="0.0053"/><stop offset="0.7667" stop-color="#fff" stop-opacity="0.0043"/><stop offset="0.8000" stop-color="#fff" stop-opacity="0.0034"/><stop offset="0.8333" stop-color="#fff" stop-opacity="0.0026"/><stop offset="0.8667" stop-color="#fff" stop-opacity="0.0020"/><stop offset="0.9000" stop-color="#fff" stop-opacity="0.0016"/><stop offset="0.9333" stop-color="#fff" stop-opacity="0.0012"/><stop offset="0.9667" stop-color="#fff" stop-opacity="0.0009"/><stop offset="1.0000" stop-color="#fff" stop-opacity="0.0000"/></radialGradient><radialGradient id="g30" cx="0" cy="0" r="3" gradientUnits="userSpaceOnUse"><stop offset="0.0000" stop-color="#fff" stop-opacity="0.1000"/><stop offset="0.0333" stop-color="#fff" stop-opacity="0.0995"/><stop offset="0.0667" stop-color="#fff" stop-opacity="0.0980"/><stop offset="0.1000" stop-color="#fff" stop-opacity="0.0956"/><stop offset="0.1333" stop-color="#fff" stop-opacity="0.0923"/><stop offset="0.1667" stop-color="#fff" stop-opacity="0.0882"/><stop offset="0.2000" stop-color="#fff" stop-opacity="0.0835"/><stop offset="0.2333" stop-color="#fff" stop-opacity="0.0783"/><stop offset="0.2667" stop-color="#fff" stop-opacity="0.0726"/><stop offset="0.3000" stop-color="#fff" stop-opacity="0.0667"/><stop offset="0.3333" stop-color="#fff" stop-opacity="0.0607"/><stop offset="0.3667" stop-color="#fff" stop-opacity="0.0546"/><stop offset="0.4000" stop-color="#fff" stop-opacity="0.0487"/><stop offset="0.4333" stop-color="#fff" stop-opacity="0.0430"/><stop offset="0.4667" stop-color="#fff" stop-opacity="0.0375"/><stop offset="0.5000" stop-color="#fff" stop-opacity="0.0325"/><stop offset="0.5333" stop-color="#fff" stop-opacity="0.0278"/><stop offset="0.5667" stop-color="#fff" stop-opacity="0.0236"/><stop offset="0.6000" stop-color="#fff" stop-opacity="0.0198"/><stop offset="0.6333" stop-color="#fff" stop-opacity="0.0164"/><stop offset="0.6667" stop-color="#fff" stop-opacity="0.0135"/><stop offset="0.7000" stop-color="#fff" stop-opacity="0.0110"/><stop offset="0.7333" stop-color="#fff" stop-opacity="0.0089"/><stop offset="0.7667" stop-color="#fff" stop-opacity="0.0071"/><stop offset="0.8000" stop-color="#fff" stop-opacity="0.0056"/><stop offset="0.8333" stop-color="#fff" stop-opacity="0.0044"/><stop offset="0.8667" stop-color="#fff" stop-opacity="0.0034"/><stop offset="0.9000" stop-color="#fff" stop-opacity="0.0026"/><stop offset="0.9333" stop-color="#fff" stop-opacity="0.0020"/><stop offset="0.9667" stop-color="#fff" stop-opacity="0.0015"/><stop offset="1.0000" stop-color="#fff" stop-opacity="0.0000"/></radialGradient><radialGradient id="g31" cx="0" cy="0" r="3" gradientUnits="userSpaceOnUse"><stop offset="0.0000" stop-color="#fff" stop-opacity="0.0600"/><stop offset="0.0333" stop-color="#fff" stop-opacity="0.0597"/><stop offset="0.0667" stop-color="#fff" stop-opacity="0.0588"/><stop offset="0.1000" stop-color="#fff" stop-opacity="0.0574"/><stop offset="0.1333" stop-color="#fff" stop-opacity="0.0554"/><stop offset="0.1667" stop-color="#fff" stop-opacity="0.0529"/><stop offset="0.2000" stop-color="#fff" stop-opacity="0.0501"/><stop offset="0.2333" stop-color="#fff" stop-opacity="0.0470"/><stop offset="0.2667" stop-color="#fff" stop-opacity="0.0436"/><stop offset="0.3000" stop-color="#fff" stop-opacity="0.0400"/><stop offset="0.3333" stop-color="#fff" stop-opacity="0.0364"/><stop offset="0.3667" stop-color="#fff" stop-opacity="0.0328"/><stop offset="0.4000" stop-color="#fff" stop-opacity="0.0292"/><stop offset="0.4333" stop-color="#fff" stop-opacity="0.0258"/><stop offset="0.4667" stop-color="#fff" stop-opacity="0.0225"/><stop offset="0.5000" stop-color="#fff" stop-opacity="0.0195"/><stop offset="0.5333" stop-color="#fff" stop-opacity="0.0167"/><stop offset="0.5667" stop-color="#fff" stop-opacity="0.0141"/><stop offset="0.6000" stop-color="#fff" stop-opacity="0.0119"/><stop offset="0.6333" stop-color="#fff" stop-opacity="0.0099"/><stop offset="0.6667" stop-color="#fff" stop-opacity="0.0081"/><stop offset="0.7000" stop-color="#fff" stop-opacity="0.0066"/><stop offset="0.7333" stop-color="#fff" stop-opacity="0.0053"/><stop offset="0.7667" stop-color="#fff" stop-opacity="0.0043"/><stop offset="0.8000" stop-color="#fff" stop-opacity="0.0034"/><stop offset="0.8333" stop-color="#fff" stop-opacity="0.0026"/><stop offset="0.8667" stop-color="#fff" stop-opacity="0.0020"/><stop offset="0.9000" stop-color="#fff" stop-opacity="0.0016"/><stop offset="0.9333" stop-color="#fff" stop-opacity="0.0012"/><stop offset="0.9667" stop-color="#fff" stop-opacity="0.0009"/><stop offset="1.0000" stop-color="#fff" stop-opacity="0.0000"/></radialGradient><radialGradient id="g32" cx="0" cy="0" r="50" gradientUnits="userSpaceOnUse"><stop offset="0.0000" stop-color="#fff" stop-opacity="0.9328"/><stop offset="0.0600" stop-color="#fff" stop-opacity="0.9030"/><stop offset="0.1200" stop-color="#fff" stop-opacity="0.8284"/><stop offset="0.1800" stop-color="#fff" stop-opacity="0.7239"/><stop offset="0.2660" stop-color="#fff" stop-opacity="0.6045"/><stop offset="0.3600" stop-color="#fff" stop-opacity="0.4925"/><stop offset="0.4600" stop-color="#fff" stop-opacity="0.3881"/><stop offset="0.5600" stop-color="#fff" stop-opacity="0.2687"/><stop offset="0.6800" stop-color="#fff" stop-opacity="0.1493"/><stop offset="0.8400" stop-color="#fff" stop-opacity="0.0522"/><stop offset="1.0000" stop-color="#fff" stop-opacity="0.0000"/></radialGradient><clipPath id="c5"><rect x="556.9" y="182.1" width="153.60000000000002" height="153.79999999999998"/></clipPath><radialGradient id="g33" cx="0" cy="0" r="3" gradientUnits="userSpaceOnUse"><stop offset="0.0000" stop-color="#000" stop-opacity="0.4000"/><stop offset="0.0333" stop-color="#000" stop-opacity="0.3980"/><stop offset="0.0667" stop-color="#000" stop-opacity="0.3921"/><stop offset="0.1000" stop-color="#000" stop-opacity="0.3824"/><stop offset="0.1333" stop-color="#000" stop-opacity="0.3692"/><stop offset="0.1667" stop-color="#000" stop-opacity="0.3530"/><stop offset="0.2000" stop-color="#000" stop-opacity="0.3341"/><stop offset="0.2333" stop-color="#000" stop-opacity="0.3131"/><stop offset="0.2667" stop-color="#000" stop-opacity="0.2905"/><stop offset="0.3000" stop-color="#000" stop-opacity="0.2668"/><stop offset="0.3333" stop-color="#000" stop-opacity="0.2426"/><stop offset="0.3667" stop-color="#000" stop-opacity="0.2184"/><stop offset="0.4000" stop-color="#000" stop-opacity="0.1947"/><stop offset="0.4333" stop-color="#000" stop-opacity="0.1718"/><stop offset="0.4667" stop-color="#000" stop-opacity="0.1501"/><stop offset="0.5000" stop-color="#000" stop-opacity="0.1299"/><stop offset="0.5333" stop-color="#000" stop-opacity="0.1112"/><stop offset="0.5667" stop-color="#000" stop-opacity="0.0943"/><stop offset="0.6000" stop-color="#000" stop-opacity="0.0792"/><stop offset="0.6333" stop-color="#000" stop-opacity="0.0658"/><stop offset="0.6667" stop-color="#000" stop-opacity="0.0541"/><stop offset="0.7000" stop-color="#000" stop-opacity="0.0441"/><stop offset="0.7333" stop-color="#000" stop-opacity="0.0356"/><stop offset="0.7667" stop-color="#000" stop-opacity="0.0284"/><stop offset="0.8000" stop-color="#000" stop-opacity="0.0225"/><stop offset="0.8333" stop-color="#000" stop-opacity="0.0176"/><stop offset="0.8667" stop-color="#000" stop-opacity="0.0136"/><stop offset="0.9000" stop-color="#000" stop-opacity="0.0104"/><stop offset="0.9333" stop-color="#000" stop-opacity="0.0079"/><stop offset="0.9667" stop-color="#000" stop-opacity="0.0060"/><stop offset="1.0000" stop-color="#000" stop-opacity="0.0000"/></radialGradient><radialGradient id="g34" cx="0" cy="0" r="3" gradientUnits="userSpaceOnUse"><stop offset="0.0000" stop-color="#000" stop-opacity="0.5000"/><stop offset="0.0333" stop-color="#000" stop-opacity="0.4975"/><stop offset="0.0667" stop-color="#000" stop-opacity="0.4901"/><stop offset="0.1000" stop-color="#000" stop-opacity="0.4780"/><stop offset="0.1333" stop-color="#000" stop-opacity="0.4616"/><stop offset="0.1667" stop-color="#000" stop-opacity="0.4412"/><stop offset="0.2000" stop-color="#000" stop-opacity="0.4176"/><stop offset="0.2333" stop-color="#000" stop-opacity="0.3914"/><stop offset="0.2667" stop-color="#000" stop-opacity="0.3631"/><stop offset="0.3000" stop-color="#000" stop-opacity="0.3335"/><stop offset="0.3333" stop-color="#000" stop-opacity="0.3033"/><stop offset="0.3667" stop-color="#000" stop-opacity="0.2730"/><stop offset="0.4000" stop-color="#000" stop-opacity="0.2434"/><stop offset="0.4333" stop-color="#000" stop-opacity="0.2148"/><stop offset="0.4667" stop-color="#000" stop-opacity="0.1877"/><stop offset="0.5000" stop-color="#000" stop-opacity="0.1623"/><stop offset="0.5333" stop-color="#000" stop-opacity="0.1390"/><stop offset="0.5667" stop-color="#000" stop-opacity="0.1179"/><stop offset="0.6000" stop-color="#000" stop-opacity="0.0989"/><stop offset="0.6333" stop-color="#000" stop-opacity="0.0822"/><stop offset="0.6667" stop-color="#000" stop-opacity="0.0677"/><stop offset="0.7000" stop-color="#000" stop-opacity="0.0551"/><stop offset="0.7333" stop-color="#000" stop-opacity="0.0445"/><stop offset="0.7667" stop-color="#000" stop-opacity="0.0355"/><stop offset="0.8000" stop-color="#000" stop-opacity="0.0281"/><stop offset="0.8333" stop-color="#000" stop-opacity="0.0220"/><stop offset="0.8667" stop-color="#000" stop-opacity="0.0170"/><stop offset="0.9000" stop-color="#000" stop-opacity="0.0131"/><stop offset="0.9333" stop-color="#000" stop-opacity="0.0099"/><stop offset="0.9667" stop-color="#000" stop-opacity="0.0075"/><stop offset="1.0000" stop-color="#000" stop-opacity="0.0000"/></radialGradient><radialGradient id="g35" cx="0" cy="0" r="3" gradientUnits="userSpaceOnUse"><stop offset="0.0000" stop-color="#000" stop-opacity="0.2500"/><stop offset="0.0333" stop-color="#000" stop-opacity="0.2488"/><stop offset="0.0667" stop-color="#000" stop-opacity="0.2450"/><stop offset="0.1000" stop-color="#000" stop-opacity="0.2390"/><stop offset="0.1333" stop-color="#000" stop-opacity="0.2308"/><stop offset="0.1667" stop-color="#000" stop-opacity="0.2206"/><stop offset="0.2000" stop-color="#000" stop-opacity="0.2088"/><stop offset="0.2333" stop-color="#000" stop-opacity="0.1957"/><stop offset="0.2667" stop-color="#000" stop-opacity="0.1815"/><stop offset="0.3000" stop-color="#000" stop-opacity="0.1667"/><stop offset="0.3333" stop-color="#000" stop-opacity="0.1516"/><stop offset="0.3667" stop-color="#000" stop-opacity="0.1365"/><stop offset="0.4000" stop-color="#000" stop-opacity="0.1217"/><stop offset="0.4333" stop-color="#000" stop-opacity="0.1074"/><stop offset="0.4667" stop-color="#000" stop-opacity="0.0938"/><stop offset="0.5000" stop-color="#000" stop-opacity="0.0812"/><stop offset="0.5333" stop-color="#000" stop-opacity="0.0695"/><stop offset="0.5667" stop-color="#000" stop-opacity="0.0589"/><stop offset="0.6000" stop-color="#000" stop-opacity="0.0495"/><stop offset="0.6333" stop-color="#000" stop-opacity="0.0411"/><stop offset="0.6667" stop-color="#000" stop-opacity="0.0338"/><stop offset="0.7000" stop-color="#000" stop-opacity="0.0276"/><stop offset="0.7333" stop-color="#000" stop-opacity="0.0222"/><stop offset="0.7667" stop-color="#000" stop-opacity="0.0178"/><stop offset="0.8000" stop-color="#000" stop-opacity="0.0140"/><stop offset="0.8333" stop-color="#000" stop-opacity="0.0110"/><stop offset="0.8667" stop-color="#000" stop-opacity="0.0085"/><stop offset="0.9000" stop-color="#000" stop-opacity="0.0065"/><stop offset="0.9333" stop-color="#000" stop-opacity="0.0050"/><stop offset="0.9667" stop-color="#000" stop-opacity="0.0037"/><stop offset="1.0000" stop-color="#000" stop-opacity="0.0000"/></radialGradient><radialGradient id="g36" cx="0" cy="0" r="3" gradientUnits="userSpaceOnUse"><stop offset="0.0000" stop-color="#000" stop-opacity="0.3000"/><stop offset="0.0333" stop-color="#000" stop-opacity="0.2985"/><stop offset="0.0667" stop-color="#000" stop-opacity="0.2941"/><stop offset="0.1000" stop-color="#000" stop-opacity="0.2868"/><stop offset="0.1333" stop-color="#000" stop-opacity="0.2769"/><stop offset="0.1667" stop-color="#000" stop-opacity="0.2647"/><stop offset="0.2000" stop-color="#000" stop-opacity="0.2506"/><stop offset="0.2333" stop-color="#000" stop-opacity="0.2348"/><stop offset="0.2667" stop-color="#000" stop-opacity="0.2178"/><stop offset="0.3000" stop-color="#000" stop-opacity="0.2001"/><stop offset="0.3333" stop-color="#000" stop-opacity="0.1820"/><stop offset="0.3667" stop-color="#000" stop-opacity="0.1638"/><stop offset="0.4000" stop-color="#000" stop-opacity="0.1460"/><stop offset="0.4333" stop-color="#000" stop-opacity="0.1289"/><stop offset="0.4667" stop-color="#000" stop-opacity="0.1126"/><stop offset="0.5000" stop-color="#000" stop-opacity="0.0974"/><stop offset="0.5333" stop-color="#000" stop-opacity="0.0834"/><stop offset="0.5667" stop-color="#000" stop-opacity="0.0707"/><stop offset="0.6000" stop-color="#000" stop-opacity="0.0594"/><stop offset="0.6333" stop-color="#000" stop-opacity="0.0493"/><stop offset="0.6667" stop-color="#000" stop-opacity="0.0406"/><stop offset="0.7000" stop-color="#000" stop-opacity="0.0331"/><stop offset="0.7333" stop-color="#000" stop-opacity="0.0267"/><stop offset="0.7667" stop-color="#000" stop-opacity="0.0213"/><stop offset="0.8000" stop-color="#000" stop-opacity="0.0168"/><stop offset="0.8333" stop-color="#000" stop-opacity="0.0132"/><stop offset="0.8667" stop-color="#000" stop-opacity="0.0102"/><stop offset="0.9000" stop-color="#000" stop-opacity="0.0078"/><stop offset="0.9333" stop-color="#000" stop-opacity="0.0060"/><stop offset="0.9667" stop-color="#000" stop-opacity="0.0045"/><stop offset="1.0000" stop-color="#000" stop-opacity="0.0000"/></radialGradient><radialGradient id="g37" cx="0" cy="0" r="3" gradientUnits="userSpaceOnUse"><stop offset="0.0000" stop-color="#fff" stop-opacity="0.4000"/><stop offset="0.0333" stop-color="#fff" stop-opacity="0.3980"/><stop offset="0.0667" stop-color="#fff" stop-opacity="0.3921"/><stop offset="0.1000" stop-color="#fff" stop-opacity="0.3824"/><stop offset="0.1333" stop-color="#fff" stop-opacity="0.3692"/><stop offset="0.1667" stop-color="#fff" stop-opacity="0.3530"/><stop offset="0.2000" stop-color="#fff" stop-opacity="0.3341"/><stop offset="0.2333" stop-color="#fff" stop-opacity="0.3131"/><stop offset="0.2667" stop-color="#fff" stop-opacity="0.2905"/><stop offset="0.3000" stop-color="#fff" stop-opacity="0.2668"/><stop offset="0.3333" stop-color="#fff" stop-opacity="0.2426"/><stop offset="0.3667" stop-color="#fff" stop-opacity="0.2184"/><stop offset="0.4000" stop-color="#fff" stop-opacity="0.1947"/><stop offset="0.4333" stop-color="#fff" stop-opacity="0.1718"/><stop offset="0.4667" stop-color="#fff" stop-opacity="0.1501"/><stop offset="0.5000" stop-color="#fff" stop-opacity="0.1299"/><stop offset="0.5333" stop-color="#fff" stop-opacity="0.1112"/><stop offset="0.5667" stop-color="#fff" stop-opacity="0.0943"/><stop offset="0.6000" stop-color="#fff" stop-opacity="0.0792"/><stop offset="0.6333" stop-color="#fff" stop-opacity="0.0658"/><stop offset="0.6667" stop-color="#fff" stop-opacity="0.0541"/><stop offset="0.7000" stop-color="#fff" stop-opacity="0.0441"/><stop offset="0.7333" stop-color="#fff" stop-opacity="0.0356"/><stop offset="0.7667" stop-color="#fff" stop-opacity="0.0284"/><stop offset="0.8000" stop-color="#fff" stop-opacity="0.0225"/><stop offset="0.8333" stop-color="#fff" stop-opacity="0.0176"/><stop offset="0.8667" stop-color="#fff" stop-opacity="0.0136"/><stop offset="0.9000" stop-color="#fff" stop-opacity="0.0104"/><stop offset="0.9333" stop-color="#fff" stop-opacity="0.0079"/><stop offset="0.9667" stop-color="#fff" stop-opacity="0.0060"/><stop offset="1.0000" stop-color="#fff" stop-opacity="0.0000"/></radialGradient><radialGradient id="g38" cx="0" cy="0" r="3" gradientUnits="userSpaceOnUse"><stop offset="0.0000" stop-color="#fff" stop-opacity="0.1400"/><stop offset="0.0333" stop-color="#fff" stop-opacity="0.1393"/><stop offset="0.0667" stop-color="#fff" stop-opacity="0.1372"/><stop offset="0.1000" stop-color="#fff" stop-opacity="0.1338"/><stop offset="0.1333" stop-color="#fff" stop-opacity="0.1292"/><stop offset="0.1667" stop-color="#fff" stop-opacity="0.1235"/><stop offset="0.2000" stop-color="#fff" stop-opacity="0.1169"/><stop offset="0.2333" stop-color="#fff" stop-opacity="0.1096"/><stop offset="0.2667" stop-color="#fff" stop-opacity="0.1017"/><stop offset="0.3000" stop-color="#fff" stop-opacity="0.0934"/><stop offset="0.3333" stop-color="#fff" stop-opacity="0.0849"/><stop offset="0.3667" stop-color="#fff" stop-opacity="0.0765"/><stop offset="0.4000" stop-color="#fff" stop-opacity="0.0681"/><stop offset="0.4333" stop-color="#fff" stop-opacity="0.0601"/><stop offset="0.4667" stop-color="#fff" stop-opacity="0.0525"/><stop offset="0.5000" stop-color="#fff" stop-opacity="0.0455"/><stop offset="0.5333" stop-color="#fff" stop-opacity="0.0389"/><stop offset="0.5667" stop-color="#fff" stop-opacity="0.0330"/><stop offset="0.6000" stop-color="#fff" stop-opacity="0.0277"/><stop offset="0.6333" stop-color="#fff" stop-opacity="0.0230"/><stop offset="0.6667" stop-color="#fff" stop-opacity="0.0189"/><stop offset="0.7000" stop-color="#fff" stop-opacity="0.0154"/><stop offset="0.7333" stop-color="#fff" stop-opacity="0.0124"/><stop offset="0.7667" stop-color="#fff" stop-opacity="0.0099"/><stop offset="0.8000" stop-color="#fff" stop-opacity="0.0079"/><stop offset="0.8333" stop-color="#fff" stop-opacity="0.0062"/><stop offset="0.8667" stop-color="#fff" stop-opacity="0.0048"/><stop offset="0.9000" stop-color="#fff" stop-opacity="0.0037"/><stop offset="0.9333" stop-color="#fff" stop-opacity="0.0028"/><stop offset="0.9667" stop-color="#fff" stop-opacity="0.0021"/><stop offset="1.0000" stop-color="#fff" stop-opacity="0.0000"/></radialGradient><radialGradient id="g39" cx="0" cy="0" r="40" gradientUnits="userSpaceOnUse"><stop offset="0.0000" stop-color="#fff" stop-opacity="0.9022"/><stop offset="0.0750" stop-color="#fff" stop-opacity="0.8587"/><stop offset="0.1500" stop-color="#fff" stop-opacity="0.7500"/><stop offset="0.2500" stop-color="#fff" stop-opacity="0.5652"/><stop offset="0.3500" stop-color="#fff" stop-opacity="0.4130"/><stop offset="0.4500" stop-color="#fff" stop-opacity="0.2717"/><stop offset="0.5500" stop-color="#fff" stop-opacity="0.1630"/><stop offset="0.6750" stop-color="#fff" stop-opacity="0.0761"/><stop offset="0.8250" stop-color="#fff" stop-opacity="0.0217"/><stop offset="1.0000" stop-color="#fff" stop-opacity="0.0000"/></radialGradient><filter id="heat" x="-5%" y="-5%" width="110%" height="110%" color-interpolation-filters="sRGB">
<feComponentTransfer>
<feFuncR type="table" tableValues="0 0.25 0.5 0.75 1 1 1"/>
<feFuncG type="table" tableValues="0 0 1"/>
<feFuncB type="table" tableValues="0 0 0 0 1"/>
</feComponentTransfer></filter><linearGradient id="cbar" x1="0" y1="1" x2="0" y2="0">
<stop offset="0" stop-color="#000"/><stop offset="0.5" stop-color="rgb(191,0,0)"/><stop offset="0.6667" stop-color="rgb(255,85,0)"/><stop offset="0.75" stop-color="rgb(255,128,0)"/><stop offset="1" stop-color="#fff"/></linearGradient></defs>
<rect width="760" height="354" fill="#fff"/>
<g clip-path="url(#c0)"><g filter="url(#heat)">
<rect x="53.0" y="-1" width="163.0" height="163.7" fill="rgb(47,47,47)"/>
<ellipse cx="0" cy="0" rx="3" ry="3" fill="url(#g1)" transform="translate(75.3 80) rotate(0) scale(11 24)"/>
<ellipse cx="0" cy="0" rx="3" ry="3" fill="url(#g2)" transform="translate(133 27) rotate(0) scale(24 13)"/>
<ellipse cx="0" cy="0" rx="3" ry="3" fill="url(#g3)" transform="translate(198.7 72) rotate(0) scale(12 32)"/>
<ellipse cx="0" cy="0" rx="3" ry="3" fill="url(#g4)" transform="translate(172 122) rotate(0) scale(15 11)"/>
<ellipse cx="0" cy="0" rx="3" ry="3" fill="url(#g5)" transform="translate(82 100) rotate(0) scale(22 11)"/>
<ellipse cx="0" cy="0" rx="3" ry="3" fill="url(#g6)" transform="translate(103 72) rotate(0) scale(9 22)"/>
<ellipse cx="0" cy="0" rx="3" ry="3" fill="url(#g7)" transform="translate(177 58) rotate(0) scale(9 14)"/>
<ellipse cx="0" cy="0" rx="3" ry="3" fill="url(#g8)" transform="translate(99 42) rotate(0) scale(12 16)"/>
<ellipse cx="0" cy="0" rx="3" ry="3" fill="url(#g9)" transform="translate(188 148) rotate(0) scale(30 8)"/>
<ellipse cx="0" cy="0" rx="3" ry="3" fill="url(#g10)" transform="translate(172 27) rotate(0) scale(17 15)"/>
<ellipse cx="0" cy="0" rx="3" ry="3" fill="url(#g11)" transform="translate(130 131) rotate(0) scale(18 11)"/>
<ellipse cx="0" cy="0" rx="3" ry="3" fill="url(#g12)" transform="translate(183.5 105.7) rotate(0) scale(9 9)"/>
<ellipse cx="0" cy="0" rx="3" ry="3" fill="url(#g13)" transform="translate(144 62) rotate(0) scale(10 11)"/>
<ellipse cx="0" cy="0" rx="40" ry="40" fill="url(#g14)" transform="translate(138.8 78) rotate(4) scale(1 1.22)"/>
</g></g>
<ellipse cx="138.4" cy="77.6" rx="10.4" ry="12.3" transform="rotate(0 138.4 77.6)" fill="none" stroke="#9a7c50" stroke-width="1.15" clip-path="url(#c0)"/>
<g clip-path="url(#c0)"><path d="M137.36 52.54C140.15 52.30 143.21 53.09 145.72 54.21C148.23 55.33 150.60 57.07 152.41 59.23C154.22 61.39 155.62 64.46 156.59 67.18C157.56 69.90 158.16 72.58 158.26 75.54C158.36 78.50 157.98 81.98 157.21 84.94C156.44 87.90 155.23 90.87 153.66 93.31C152.09 95.75 150.00 97.94 147.81 99.58C145.62 101.22 142.93 102.68 140.49 103.13C138.05 103.58 135.44 103.23 133.18 102.29C130.92 101.35 128.64 99.51 126.90 97.49C125.16 95.47 123.84 92.96 122.72 90.17C121.60 87.38 120.63 83.90 120.21 80.76C119.79 77.62 119.72 74.32 120.21 71.36C120.70 68.40 121.68 65.60 123.14 62.99C124.60 60.38 126.62 57.42 128.99 55.68C131.36 53.94 134.57 52.78 137.36 52.54Z" fill="none" stroke="#8e8e8e" stroke-width="1.0"/></g>
<g clip-path="url(#c0)"><path d="M137.36 45.85C140.67 45.50 143.80 46.20 146.76 47.32C149.72 48.44 152.78 50.28 155.12 52.54C157.46 54.80 159.38 57.76 160.77 60.90C162.17 64.04 163.14 67.88 163.49 71.36C163.84 74.84 163.56 78.33 162.86 81.81C162.16 85.29 160.95 88.95 159.31 92.26C157.67 95.57 155.47 99.06 153.03 101.67C150.59 104.28 147.63 106.55 144.67 107.94C141.71 109.33 138.23 110.28 135.27 110.03C132.31 109.78 129.34 108.39 126.90 106.47C124.46 104.55 122.37 101.59 120.63 98.53C118.89 95.47 117.42 91.56 116.45 88.08C115.48 84.60 114.85 81.11 114.78 77.63C114.71 74.15 115.23 70.49 116.03 67.18C116.83 63.87 117.78 60.73 119.59 57.77C121.40 54.81 123.94 51.40 126.90 49.41C129.86 47.42 134.05 46.20 137.36 45.85Z" fill="none" stroke="#8e8e8e" stroke-width="1.0"/></g>
<path d="M133.5 77.6H138.10000000000002M135.8 75.3V79.89999999999999" stroke="#000" stroke-width="1.45" fill="none"/>
<path d="M58.0 6.83h1.5M211.0 6.83h-1.5M58.0 12.92h1.5M211.0 12.92h-1.5M58.0 19.01h1.5M211.0 19.01h-1.5M58.0 25.1h3M211.0 25.1h-3M58.0 31.19h1.5M211.0 31.19h-1.5M58.0 37.28h1.5M211.0 37.28h-1.5M58.0 43.37h1.5M211.0 43.37h-1.5M58.0 49.46h1.5M211.0 49.46h-1.5M58.0 55.55h3M211.0 55.55h-3M58.0 61.64h1.5M211.0 61.64h-1.5M58.0 67.73h1.5M211.0 67.73h-1.5M58.0 73.82h1.5M211.0 73.82h-1.5M58.0 79.91h1.5M211.0 79.91h-1.5M58.0 86.0h3M211.0 86.0h-3M58.0 92.09h1.5M211.0 92.09h-1.5M58.0 98.18h1.5M211.0 98.18h-1.5M58.0 104.27h1.5M211.0 104.27h-1.5M58.0 110.36h1.5M211.0 110.36h-1.5M58.0 116.45h3M211.0 116.45h-3M58.0 122.54h1.5M211.0 122.54h-1.5M58.0 128.63h1.5M211.0 128.63h-1.5M58.0 134.72h1.5M211.0 134.72h-1.5M58.0 140.81h1.5M211.0 140.81h-1.5M58.0 146.9h3M211.0 146.9h-3M58.0 152.99h1.5M211.0 152.99h-1.5M100.7 4v3M100.7 157.7v-3M203.3 4v3M203.3 157.7v-3M59.660000000000004 4v1.5M59.660000000000004 157.7v-1.5M80.18 4v1.5M80.18 157.7v-1.5M121.22 4v1.5M121.22 157.7v-1.5M141.74 4v1.5M141.74 157.7v-1.5M162.26 4v1.5M162.26 157.7v-1.5M182.78 4v1.5M182.78 157.7v-1.5" stroke="#e8dada" stroke-width="0.6" fill="none" opacity="0.8"/>
<rect x="59.9" y="111.4" width="45.1" height="44.19999999999999" fill="#fff"/>
<ellipse cx="82.5" cy="133.6" rx="20.5" ry="20.5" transform="rotate(0 82.5 133.6)" fill="none" stroke="#222" stroke-width="0.85"/>
<rect x="122.8" y="143.1" width="86.50000000000001" height="12.599999999999994" fill="#fff"/>
<path d="M124.7 144.8H207.5" stroke="#8a8a8a" stroke-width="1.3"/>
<text x="166.05" y="152.7" font-size="7.3" text-anchor="middle" fill="#111">5000 AU</text>
<rect x="58.0" y="4" width="153.0" height="153.7" fill="none" stroke="#1a0000" stroke-width="0.6"/>
<rect x="211.0" y="4" width="6.3" height="153.7" fill="url(#cbar)" stroke="#333" stroke-width="0.5"/>
<path d="M217.3 20.2h-2" stroke="#222" stroke-width="0.5"/>
<text x="219.20000000000002" y="23.099999999999998" font-size="7.3" fill="#111">0.0020</text>
<path d="M217.3 48.15h-2" stroke="#222" stroke-width="0.5"/>
<text x="219.20000000000002" y="51.05" font-size="7.3" fill="#111">0.0015</text>
<path d="M217.3 76.1h-2" stroke="#222" stroke-width="0.5"/>
<text x="219.20000000000002" y="79.0" font-size="7.3" fill="#111">0.0010</text>
<path d="M217.3 104.05h-2" stroke="#222" stroke-width="0.5"/>
<text x="219.20000000000002" y="106.95" font-size="7.3" fill="#111">0.0005</text>
<path d="M217.3 132.0h-2" stroke="#222" stroke-width="0.5"/>
<text x="219.20000000000002" y="134.9" font-size="7.3" fill="#111">0.0000</text>
<text x="63.2" y="15.6" font-size="9.35" class="w" font-weight="bold" fill="#fff">V1735 Cyg</text>
<text x="56.8" y="28.0" font-size="7.3" text-anchor="end" fill="#111">09.0</text>
<text x="56.8" y="58.4" font-size="7.3" text-anchor="end" fill="#111">06.0</text>
<text x="56.8" y="88.80000000000001" font-size="7.3" text-anchor="end" fill="#111">03.0</text>
<text x="56.8" y="119.4" font-size="7.3" text-anchor="end" fill="#111">32:00.0</text>
<text x="56.8" y="149.9" font-size="7.3" text-anchor="end" fill="#111">+47:31:57.0</text>
<text x="100.6" y="165.1" font-size="7.3" text-anchor="middle" fill="#111">21</text>
<text x="203.6" y="165.1" font-size="7.3" text-anchor="middle" fill="#111">21:47:20</text>
<text x="134.7" y="173.79999999999998" font-size="7.3" text-anchor="middle" fill="#111">RA (J2000)</text>
<text x="7.8" y="80.05" font-size="7.3" text-anchor="middle" fill="#111" transform="rotate(-90 7.8 80.05)">Dec (J2000)</text>
<g clip-path="url(#c1)"><g filter="url(#heat)">
<rect x="299.6" y="-1" width="163.29999999999995" height="163.7" fill="rgb(28,28,28)"/>
<ellipse cx="0" cy="0" rx="54" ry="54" fill="url(#g15)" transform="translate(382 79.6) rotate(0) scale(1 1)"/>
</g></g>
<ellipse cx="381.5" cy="80" rx="7.8" ry="7.8" transform="rotate(0 381.5 80)" fill="none" stroke="#777" stroke-width="0.9" clip-path="url(#c1)"/>
<ellipse cx="381.7" cy="79.6" rx="21.3" ry="21.2" transform="rotate(0 381.7 79.6)" fill="none" stroke="#8e8e8e" stroke-width="1.0" clip-path="url(#c1)"/>
<g clip-path="url(#c1)"><path d="M380.26 50.16C383.45 50.37 388.05 50.98 391.45 52.64C394.85 54.30 398.15 56.99 400.64 60.10C403.12 63.21 405.12 67.35 406.36 71.29C407.60 75.23 408.31 79.78 408.10 83.72C407.89 87.66 406.94 91.79 405.12 94.90C403.30 98.01 400.89 100.70 397.16 102.36C393.43 104.02 387.43 104.72 382.75 104.85C378.07 104.97 373.13 104.56 369.07 103.11C365.01 101.66 361.07 98.97 358.38 96.15C355.69 93.33 353.91 89.72 352.92 86.20C351.93 82.68 351.80 78.75 352.42 75.02C353.04 71.29 354.69 67.02 356.64 63.83C358.59 60.64 361.49 57.95 364.10 55.88C366.71 53.81 369.62 52.35 372.31 51.40C375.00 50.45 377.07 49.95 380.26 50.16Z" fill="none" stroke="#8e8e8e" stroke-width="1.0"/></g>
<g clip-path="url(#c1)"><path d="M379.76 44.44C383.07 44.60 387.84 44.94 391.45 46.43C395.06 47.92 398.37 50.28 401.39 53.39C404.41 56.50 407.52 60.84 409.59 65.07C411.66 69.30 413.12 74.19 413.82 78.75C414.52 83.31 414.77 88.36 413.82 92.42C412.87 96.48 410.79 100.42 408.10 103.11C405.41 105.80 401.89 107.38 397.66 108.58C393.44 109.78 387.72 110.32 382.75 110.32C377.78 110.32 372.39 109.78 367.83 108.58C363.27 107.38 358.63 105.60 355.40 103.11C352.17 100.62 350.01 97.10 348.44 93.66C346.87 90.22 346.03 86.41 345.95 82.47C345.87 78.53 346.70 74.07 347.94 70.05C349.18 66.03 350.92 61.88 353.41 58.36C355.90 54.84 359.84 51.07 362.86 48.92C365.88 46.77 368.74 46.19 371.56 45.44C374.38 44.69 376.44 44.27 379.76 44.44Z" fill="none" stroke="#8e8e8e" stroke-width="1.0"/></g>
<g clip-path="url(#c1)"><path d="M379.02 37.73C382.96 37.61 387.51 38.02 391.45 39.47C395.38 40.92 399.32 43.41 402.63 46.43C405.94 49.45 408.84 53.48 411.33 57.62C413.82 61.76 416.10 66.73 417.55 71.29C419.00 75.85 419.95 80.40 420.03 84.96C420.11 89.52 419.50 94.69 418.05 98.63C416.60 102.57 414.52 106.01 411.33 108.58C408.14 111.15 403.66 112.81 398.90 114.05C394.14 115.29 388.13 115.91 382.75 116.03C377.37 116.15 371.56 115.83 366.59 114.79C361.62 113.76 356.53 112.30 352.92 109.82C349.31 107.33 346.82 103.61 344.96 99.88C343.09 96.15 342.06 91.80 341.73 87.45C341.40 83.10 341.94 78.33 342.97 73.77C344.00 69.21 345.66 64.45 347.94 60.10C350.22 55.75 353.32 50.98 356.64 47.67C359.95 44.36 364.10 41.87 367.83 40.21C371.56 38.55 375.08 37.85 379.02 37.73Z" fill="none" stroke="#8e8e8e" stroke-width="1.0"/></g>
<path d="M379.8 79.9H384.40000000000003M382.1 77.60000000000001V82.2" stroke="#000" stroke-width="1.45" fill="none"/>
<path d="M304.6 7.96h1.5M457.9 7.96h-1.5M304.6 14.04h1.5M457.9 14.04h-1.5M304.6 20.12h1.5M457.9 20.12h-1.5M304.6 26.2h3M457.9 26.2h-3M304.6 32.28h1.5M457.9 32.28h-1.5M304.6 38.36h1.5M457.9 38.36h-1.5M304.6 44.44h1.5M457.9 44.44h-1.5M304.6 50.52h1.5M457.9 50.52h-1.5M304.6 56.6h3M457.9 56.6h-3M304.6 62.68h1.5M457.9 62.68h-1.5M304.6 68.76h1.5M457.9 68.76h-1.5M304.6 74.84h1.5M457.9 74.84h-1.5M304.6 80.92h1.5M457.9 80.92h-1.5M304.6 87.0h3M457.9 87.0h-3M304.6 93.08h1.5M457.9 93.08h-1.5M304.6 99.16h1.5M457.9 99.16h-1.5M304.6 105.24h1.5M457.9 105.24h-1.5M304.6 111.32h1.5M457.9 111.32h-1.5M304.6 117.4h3M457.9 117.4h-3M304.6 123.48h1.5M457.9 123.48h-1.5M304.6 129.56h1.5M457.9 129.56h-1.5M304.6 135.64h1.5M457.9 135.64h-1.5M304.6 141.72h1.5M457.9 141.72h-1.5M304.6 147.8h3M457.9 147.8h-3M304.6 153.88h1.5M457.9 153.88h-1.5M390.3 4v3M390.3 157.7v-3M315.9 4v1.5M315.9 157.7v-1.5M334.5 4v1.5M334.5 157.7v-1.5M353.1 4v1.5M353.1 157.7v-1.5M371.7 4v1.5M371.7 157.7v-1.5M408.90000000000003 4v1.5M408.90000000000003 157.7v-1.5M427.5 4v1.5M427.5 157.7v-1.5M446.1 4v1.5M446.1 157.7v-1.5" stroke="#e8dada" stroke-width="0.6" fill="none" opacity="0.8"/>
<rect x="306.8" y="111.4" width="44.39999999999998" height="44.19999999999999" fill="#fff"/>
<ellipse cx="329.2" cy="133.6" rx="20.6" ry="20.6" transform="rotate(0 329.2 133.6)" fill="none" stroke="#222" stroke-width="0.85"/>
<rect x="388.8" y="143.1" width="67.30000000000001" height="12.599999999999994" fill="#fff"/>
<path d="M390.8 144.8H454.2" stroke="#8a8a8a" stroke-width="1.3"/>
<text x="422.45000000000005" y="152.7" font-size="7.3" text-anchor="middle" fill="#111">5000 AU</text>
<rect x="304.6" y="4" width="153.29999999999995" height="153.7" fill="none" stroke="#1a0000" stroke-width="0.6"/>
<rect x="457.9" y="4" width="6.1" height="153.7" fill="url(#cbar)" stroke="#333" stroke-width="0.5"/>
<path d="M464.0 10.4h-2" stroke="#222" stroke-width="0.5"/>
<text x="465.9" y="13.3" font-size="7.3" fill="#111">0.0175</text>
<path d="M464.0 29.3h-2" stroke="#222" stroke-width="0.5"/>
<text x="465.9" y="32.2" font-size="7.3" fill="#111">0.0150</text>
<path d="M464.0 48.2h-2" stroke="#222" stroke-width="0.5"/>
<text x="465.9" y="51.1" font-size="7.3" fill="#111">0.0125</text>
<path d="M464.0 67.1h-2" stroke="#222" stroke-width="0.5"/>
<text x="465.9" y="70.0" font-size="7.3" fill="#111">0.0100</text>
<path d="M464.0 86.0h-2" stroke="#222" stroke-width="0.5"/>
<text x="465.9" y="88.9" font-size="7.3" fill="#111">0.0075</text>
<path d="M464.0 104.9h-2" stroke="#222" stroke-width="0.5"/>
<text x="465.9" y="107.80000000000001" font-size="7.3" fill="#111">0.0050</text>
<path d="M464.0 123.9h-2" stroke="#222" stroke-width="0.5"/>
<text x="465.9" y="126.80000000000001" font-size="7.3" fill="#111">0.0025</text>
<path d="M464.0 142.8h-2" stroke="#222" stroke-width="0.5"/>
<text x="465.9" y="145.70000000000002" font-size="7.3" fill="#111">0.0000</text>
<text x="309.8" y="15.6" font-size="9.35" class="w" font-weight="bold" fill="#fff">V2494 Cyg</text>
<text x="303.40000000000003" y="29.099999999999998" font-size="7.3" text-anchor="end" fill="#111">33.0</text>
<text x="303.40000000000003" y="59.5" font-size="7.3" text-anchor="end" fill="#111">30.0</text>
<text x="303.40000000000003" y="89.9" font-size="7.3" text-anchor="end" fill="#111">27.0</text>
<text x="303.40000000000003" y="120.30000000000001" font-size="7.3" text-anchor="end" fill="#111">24.0</text>
<text x="303.40000000000003" y="150.70000000000002" font-size="7.3" text-anchor="end" fill="#111">+52:29:21.0</text>
<text x="390.3" y="165.1" font-size="7.3" text-anchor="middle" fill="#111">20:58:21</text>
<text x="381.2" y="173.79999999999998" font-size="7.3" text-anchor="middle" fill="#111">RA (J2000)</text>
<g clip-path="url(#c2)"><g filter="url(#heat)">
<rect x="551.9" y="-1" width="163.60000000000002" height="163.7" fill="rgb(32,32,32)"/>
<ellipse cx="0" cy="0" rx="3" ry="3" fill="url(#g16)" transform="translate(575 45) rotate(0) scale(14 25)"/>
<ellipse cx="0" cy="0" rx="3" ry="3" fill="url(#g17)" transform="translate(690 120) rotate(0) scale(20 18)"/>
<ellipse cx="0" cy="0" rx="3" ry="3" fill="url(#g18)" transform="translate(640 130) rotate(0) scale(25 12)"/>
<ellipse cx="0" cy="0" rx="3" ry="3" fill="url(#g19)" transform="translate(607 42) rotate(0) scale(9 11)"/>
<ellipse cx="0" cy="0" rx="52" ry="52" fill="url(#g20)" transform="translate(647.4 65) rotate(0) scale(1 1)"/>
</g></g>
<ellipse cx="646.9" cy="64.8" rx="18.8" ry="18.4" transform="rotate(0 646.9 64.8)" fill="none" stroke="#a09484" stroke-width="0.9" clip-path="url(#c2)"/>
<g clip-path="url(#c2)"><path d="M646.71 40.14C650.67 40.14 655.02 40.85 658.58 42.51C662.14 44.17 665.70 46.86 668.07 50.10C670.44 53.34 672.10 58.21 672.81 61.97C673.52 65.73 673.33 69.08 672.34 72.64C671.35 76.20 669.37 80.43 666.88 83.32C664.39 86.21 660.75 88.58 657.39 89.97C654.03 91.36 650.47 91.87 646.71 91.63C642.95 91.39 638.21 90.32 634.85 88.54C631.49 86.76 628.83 84.00 626.54 80.95C624.25 77.91 621.99 73.83 621.08 70.27C620.17 66.71 620.29 63.03 621.08 59.59C621.87 56.15 623.54 52.48 625.83 49.63C628.12 46.78 631.37 44.09 634.85 42.51C638.33 40.93 642.75 40.14 646.71 40.14Z" fill="none" stroke="#8e8e8e" stroke-width="1.0"/></g>
<g clip-path="url(#c2)"><path d="M628.92 34.68C632.68 32.70 637.62 33.49 641.97 33.49C646.32 33.49 650.87 33.49 655.02 34.68C659.17 35.87 663.52 38.04 666.88 40.61C670.24 43.18 673.02 46.34 675.19 50.10C677.37 53.86 679.34 59.00 679.93 63.15C680.52 67.30 679.94 71.26 678.75 75.02C677.56 78.78 675.38 82.72 672.81 85.69C670.24 88.66 666.88 91.03 663.32 92.81C659.76 94.59 655.61 96.05 651.46 96.37C647.31 96.69 642.56 95.90 638.41 94.71C634.26 93.52 630.10 91.74 626.54 89.25C622.98 86.76 619.22 83.12 617.05 79.76C614.88 76.40 613.88 72.84 613.49 69.08C613.10 65.32 613.69 61.17 614.68 57.22C615.67 53.27 617.05 49.12 619.42 45.36C621.79 41.60 625.16 36.66 628.92 34.68Z" fill="none" stroke="#8e8e8e" stroke-width="1.0"/></g>
<g clip-path="url(#c2)"><path d="M626.54 29.22C630.10 27.72 635.04 28.03 639.59 28.03C644.14 28.03 649.68 28.51 653.83 29.22C657.98 29.93 661.15 30.41 664.51 32.31C667.87 34.21 671.03 37.25 674.00 40.61C676.97 43.97 680.21 48.32 682.31 52.47C684.41 56.62 686.19 61.38 686.58 65.53C686.98 69.68 686.18 73.44 684.68 77.39C683.18 81.34 680.53 85.89 677.56 89.25C674.59 92.61 670.84 95.46 666.88 97.56C662.92 99.66 658.38 101.36 653.83 101.83C649.28 102.30 644.34 101.52 639.59 100.41C634.85 99.30 629.71 97.64 625.36 95.19C621.01 92.74 616.46 89.25 613.49 85.69C610.52 82.13 608.43 77.59 607.56 73.83C606.69 70.07 607.48 67.11 608.27 63.15C609.06 59.20 610.65 54.45 612.31 50.10C613.97 45.75 615.87 40.53 618.24 37.05C620.61 33.57 622.98 30.72 626.54 29.22Z" fill="none" stroke="#8e8e8e" stroke-width="1.0"/></g>
<ellipse cx="619.8" cy="12.1" rx="4.8" ry="6.2" transform="rotate(0 619.8 12.1)" fill="none" stroke="#909090" stroke-width="1.0" clip-path="url(#c2)"/>
<path d="M645.1 64.8H649.6999999999999M647.4 62.5V67.1" stroke="#000" stroke-width="1.45" fill="none"/>
<path d="M556.9 5.1h1.5M710.5 5.1h-1.5M556.9 11.2h1.5M710.5 11.2h-1.5M556.9 17.3h1.5M710.5 17.3h-1.5M556.9 23.4h3M710.5 23.4h-3M556.9 29.5h1.5M710.5 29.5h-1.5M556.9 35.6h1.5M710.5 35.6h-1.5M556.9 41.7h1.5M710.5 41.7h-1.5M556.9 47.8h1.5M710.5 47.8h-1.5M556.9 53.9h3M710.5 53.9h-3M556.9 60.0h1.5M710.5 60.0h-1.5M556.9 66.1h1.5M710.5 66.1h-1.5M556.9 72.2h1.5M710.5 72.2h-1.5M556.9 78.3h1.5M710.5 78.3h-1.5M556.9 84.4h3M710.5 84.4h-3M556.9 90.5h1.5M710.5 90.5h-1.5M556.9 96.6h1.5M710.5 96.6h-1.5M556.9 102.7h1.5M710.5 102.7h-1.5M556.9 108.8h1.5M710.5 108.8h-1.5M556.9 114.9h3M710.5 114.9h-3M556.9 121.0h1.5M710.5 121.0h-1.5M556.9 127.1h1.5M710.5 127.1h-1.5M556.9 133.2h1.5M710.5 133.2h-1.5M556.9 139.3h1.5M710.5 139.3h-1.5M556.9 145.4h3M710.5 145.4h-3M556.9 151.5h1.5M710.5 151.5h-1.5M577.6 4v3M577.6 157.7v-3M670.5 4v3M670.5 157.7v-3M559.02 4v1.5M559.02 157.7v-1.5M596.1800000000001 4v1.5M596.1800000000001 157.7v-1.5M614.76 4v1.5M614.76 157.7v-1.5M633.34 4v1.5M633.34 157.7v-1.5M651.9200000000001 4v1.5M651.9200000000001 157.7v-1.5M689.08 4v1.5M689.08 157.7v-1.5M707.6600000000001 4v1.5M707.6600000000001 157.7v-1.5" stroke="#e8dada" stroke-width="0.6" fill="none" opacity="0.8"/>
<rect x="559.3" y="111.4" width="44.10000000000002" height="44.19999999999999" fill="#fff"/>
<ellipse cx="581.5" cy="133.6" rx="20.5" ry="20.5" transform="rotate(0 581.5 133.6)" fill="none" stroke="#222" stroke-width="0.85"/>
<rect x="641.2" y="143.1" width="66.79999999999995" height="12.599999999999994" fill="#fff"/>
<path d="M643.2 144.8H706.2" stroke="#8a8a8a" stroke-width="1.3"/>
<text x="674.6" y="152.7" font-size="7.3" text-anchor="middle" fill="#111">5000 AU</text>
<rect x="556.9" y="4" width="153.60000000000002" height="153.7" fill="none" stroke="#1a0000" stroke-width="0.6"/>
<rect x="710.5" y="4" width="6.2" height="153.7" fill="url(#cbar)" stroke="#333" stroke-width="0.5"/>
<path d="M716.7 4.1h-2" stroke="#222" stroke-width="0.5"/>
<text x="718.6" y="7.0" font-size="7.3" fill="#111">0.016</text>
<path d="M716.7 21.2h-2" stroke="#222" stroke-width="0.5"/>
<text x="718.6" y="24.099999999999998" font-size="7.3" fill="#111">0.014</text>
<path d="M716.7 38.3h-2" stroke="#222" stroke-width="0.5"/>
<text x="718.6" y="41.199999999999996" font-size="7.3" fill="#111">0.012</text>
<path d="M716.7 55.4h-2" stroke="#222" stroke-width="0.5"/>
<text x="718.6" y="58.3" font-size="7.3" fill="#111">0.010</text>
<path d="M716.7 72.5h-2" stroke="#222" stroke-width="0.5"/>
<text x="718.6" y="75.4" font-size="7.3" fill="#111">0.008</text>
<path d="M716.7 89.5h-2" stroke="#222" stroke-width="0.5"/>
<text x="718.6" y="92.4" font-size="7.3" fill="#111">0.006</text>
<path d="M716.7 106.6h-2" stroke="#222" stroke-width="0.5"/>
<text x="718.6" y="109.5" font-size="7.3" fill="#111">0.004</text>
<path d="M716.7 123.6h-2" stroke="#222" stroke-width="0.5"/>
<text x="718.6" y="126.5" font-size="7.3" fill="#111">0.002</text>
<path d="M716.7 140.7h-2" stroke="#222" stroke-width="0.5"/>
<text x="718.6" y="143.6" font-size="7.3" fill="#111">0.000</text>
<text x="562.1" y="15.6" font-size="9.35" class="w" font-weight="bold" fill="#fff">V2495 Cyg</text>
<text x="555.6999999999999" y="26.299999999999997" font-size="7.3" text-anchor="end" fill="#111">21.0</text>
<text x="555.6999999999999" y="56.8" font-size="7.3" text-anchor="end" fill="#111">18.0</text>
<text x="555.6999999999999" y="87.30000000000001" font-size="7.3" text-anchor="end" fill="#111">15.0</text>
<text x="555.6999999999999" y="117.9" font-size="7.3" text-anchor="end" fill="#111">12.0</text>
<text x="555.6999999999999" y="148.4" font-size="7.3" text-anchor="end" fill="#111">+52:30:09.0</text>
<text x="577.6" y="165.1" font-size="7.3" text-anchor="middle" fill="#111">26</text>
<text x="670.1" y="165.1" font-size="7.3" text-anchor="middle" fill="#111">21:00:25</text>
<text x="634" y="173.79999999999998" font-size="7.3" text-anchor="middle" fill="#111">RA (J2000)</text>
<text x="746.6" y="80.85" font-size="7.3" text-anchor="middle" fill="#111" transform="rotate(-90 746.6 80.85)">Jy/beam</text>
<g clip-path="url(#c3)"><g filter="url(#heat)">
<rect x="53.0" y="177.1" width="163.0" height="163.79999999999998" fill="rgb(26,26,26)"/>
<ellipse cx="0" cy="0" rx="3" ry="3" fill="url(#g21)" transform="translate(133 270) rotate(5) scale(38 50)"/>
<ellipse cx="0" cy="0" rx="44" ry="44" fill="url(#g22)" transform="translate(135.2 262.2) rotate(-12) scale(1 1.42)"/>
</g></g>
<ellipse cx="134.4" cy="261.2" rx="8.6" ry="10.7" transform="rotate(-12 134.4 261.2)" fill="none" stroke="#8c8478" stroke-width="0.95" clip-path="url(#c3)"/>
<g clip-path="url(#c3)"><path d="M133.58 236.11C137.56 236.29 142.94 237.95 146.43 240.89C149.92 243.83 153.10 249.15 154.51 253.74C155.92 258.33 155.92 263.84 154.88 268.43C153.84 273.02 151.33 277.67 148.27 281.28C145.21 284.89 140.49 289.18 136.51 290.10C132.53 291.02 127.70 288.87 124.40 286.79C121.10 284.71 118.64 281.28 116.68 277.61C114.72 273.94 112.89 269.35 112.64 264.76C112.39 260.17 113.56 254.23 115.21 250.07C116.86 245.91 119.50 242.12 122.56 239.79C125.62 237.46 129.60 235.93 133.58 236.11Z" fill="none" stroke="#8e8e8e" stroke-width="1.0"/></g>
<g clip-path="url(#c3)"><path d="M133.58 226.20C138.97 226.20 145.51 227.60 150.10 230.97C154.69 234.34 158.79 241.07 161.12 246.40C163.45 251.73 164.37 257.11 164.06 262.92C163.75 268.73 161.91 275.77 159.28 281.28C156.65 286.79 152.25 292.11 148.27 295.97C144.29 299.83 139.69 303.38 135.41 304.42C131.12 305.46 126.54 304.23 122.56 302.21C118.58 300.19 114.60 296.40 111.54 292.30C108.48 288.20 105.73 282.81 104.20 277.61C102.67 272.41 101.93 266.59 102.36 261.08C102.79 255.57 104.20 249.58 106.77 244.56C109.34 239.54 113.32 234.03 117.79 230.97C122.26 227.91 128.20 226.20 133.58 226.20Z" fill="none" stroke="#8e8e8e" stroke-width="1.0"/></g>
<g clip-path="url(#c3)"><path d="M135.41 212.61C140.92 213.10 148.26 213.84 153.77 217.02C159.28 220.20 164.79 225.59 168.46 231.71C172.13 237.83 174.89 246.40 175.81 253.74C176.73 261.08 176.11 269.04 173.97 275.77C171.83 282.50 167.54 288.94 162.95 294.14C158.36 299.34 151.94 303.32 146.43 306.99C140.92 310.66 134.49 312.93 129.90 316.17C125.31 319.41 122.25 324.12 118.89 326.45C115.53 328.77 112.46 330.30 109.71 330.12C106.95 329.94 104.32 328.90 102.36 325.35C100.40 321.80 99.30 315.25 97.95 308.82C96.60 302.39 95.38 294.75 94.28 286.79C93.18 278.83 91.22 269.04 91.34 261.08C91.46 253.12 92.57 245.48 95.02 239.05C97.47 232.62 101.75 226.69 106.03 222.53C110.31 218.37 115.82 215.73 120.72 214.08C125.62 212.43 129.90 212.12 135.41 212.61Z" fill="none" stroke="#8e8e8e" stroke-width="1.0"/></g>
<path d="M132.1 257.6H136.70000000000002M134.4 255.3V259.90000000000003" stroke="#000" stroke-width="1.15" fill="none"/>
<path d="M58.0 185.6h1.5M211.0 185.6h-1.5M58.0 191.7h1.5M211.0 191.7h-1.5M58.0 197.8h1.5M211.0 197.8h-1.5M58.0 203.9h1.5M211.0 203.9h-1.5M58.0 210.0h3M211.0 210.0h-3M58.0 216.1h1.5M211.0 216.1h-1.5M58.0 222.2h1.5M211.0 222.2h-1.5M58.0 228.3h1.5M211.0 228.3h-1.5M58.0 234.4h1.5M211.0 234.4h-1.5M58.0 240.5h3M211.0 240.5h-3M58.0 246.6h1.5M211.0 246.6h-1.5M58.0 252.7h1.5M211.0 252.7h-1.5M58.0 258.8h1.5M211.0 258.8h-1.5M58.0 264.9h1.5M211.0 264.9h-1.5M58.0 271.0h3M211.0 271.0h-3M58.0 277.1h1.5M211.0 277.1h-1.5M58.0 283.2h1.5M211.0 283.2h-1.5M58.0 289.3h1.5M211.0 289.3h-1.5M58.0 295.4h1.5M211.0 295.4h-1.5M58.0 301.5h3M211.0 301.5h-3M58.0 307.6h1.5M211.0 307.6h-1.5M58.0 313.7h1.5M211.0 313.7h-1.5M58.0 319.8h1.5M211.0 319.8h-1.5M58.0 325.9h1.5M211.0 325.9h-1.5M58.0 332.0h3M211.0 332.0h-3M104.8 182.1v3M104.8 335.9v-3M61.0 182.1v1.5M61.0 335.9v-1.5M82.9 182.1v1.5M82.9 335.9v-1.5M126.69999999999999 182.1v1.5M126.69999999999999 335.9v-1.5M148.6 182.1v1.5M148.6 335.9v-1.5M170.5 182.1v1.5M170.5 335.9v-1.5M192.39999999999998 182.1v1.5M192.39999999999998 335.9v-1.5" stroke="#e8dada" stroke-width="0.6" fill="none" opacity="0.8"/>
<rect x="59.8" y="289.8" width="40.2" height="44.099999999999966" fill="#fff"/>
<ellipse cx="80" cy="311.7" rx="17.4" ry="20.4" transform="rotate(-20 80 311.7)" fill="none" stroke="#222" stroke-width="0.85"/>
<rect x="153.7" y="321" width="55.70000000000002" height="12.800000000000011" fill="#fff"/>
<path d="M155.8 323H207.3" stroke="#8a8a8a" stroke-width="1.3"/>
<text x="181.55" y="330.7" font-size="7.3" text-anchor="middle" fill="#111">5000 AU</text>
<rect x="58.0" y="182.1" width="153.0" height="153.79999999999998" fill="none" stroke="#1a0000" stroke-width="0.6"/>
<rect x="211.0" y="182.1" width="6.2" height="153.79999999999998" fill="url(#cbar)" stroke="#333" stroke-width="0.5"/>
<path d="M217.2 203.1h-2" stroke="#222" stroke-width="0.5"/>
<text x="219.1" y="206.0" font-size="7.3" fill="#111">0.004</text>
<path d="M217.2 231.9h-2" stroke="#222" stroke-width="0.5"/>
<text x="219.1" y="234.8" font-size="7.3" fill="#111">0.003</text>
<path d="M217.2 260.4h-2" stroke="#222" stroke-width="0.5"/>
<text x="219.1" y="263.29999999999995" font-size="7.3" fill="#111">0.002</text>
<path d="M217.2 289.3h-2" stroke="#222" stroke-width="0.5"/>
<text x="219.1" y="292.2" font-size="7.3" fill="#111">0.001</text>
<path d="M217.2 318.4h-2" stroke="#222" stroke-width="0.5"/>
<text x="219.1" y="321.29999999999995" font-size="7.3" fill="#111">0.000</text>
<text x="63.2" y="193.7" font-size="9.35" class="w" font-weight="bold" fill="#fff">V1057 Cyg</text>
<text x="56.8" y="212.9" font-size="7.3" text-anchor="end" fill="#111">33.0</text>
<text x="56.8" y="243.5" font-size="7.3" text-anchor="end" fill="#111">30.0</text>
<text x="56.8" y="274.09999999999997" font-size="7.3" text-anchor="end" fill="#111">27.0</text>
<text x="56.8" y="304.7" font-size="7.3" text-anchor="end" fill="#111">24.0</text>
<text x="56.8" y="335.2" font-size="7.3" text-anchor="end" fill="#111">+44:15:21.0</text>
<text x="104.8" y="343.29999999999995" font-size="7.3" text-anchor="middle" fill="#111">20:58:54</text>
<text x="134.5" y="352.0" font-size="7.3" text-anchor="middle" fill="#111">RA (J2000)</text>
<text x="7.8" y="258.2" font-size="7.3" text-anchor="middle" fill="#111" transform="rotate(-90 7.8 258.2)">Dec (J2000)</text>
<g clip-path="url(#c4)"><g filter="url(#heat)">
<rect x="299.6" y="177.1" width="163.29999999999995" height="163.79999999999998" fill="rgb(79,79,79)"/>
<ellipse cx="0" cy="0" rx="3" ry="3" fill="url(#g23)" transform="translate(348 212) rotate(12) scale(38 24)"/>
<ellipse cx="0" cy="0" rx="3" ry="3" fill="url(#g24)" transform="translate(446 296) rotate(0) scale(18 28)"/>
<ellipse cx="0" cy="0" rx="3" ry="3" fill="url(#g25)" transform="translate(348 282) rotate(0) scale(16 13)"/>
<ellipse cx="0" cy="0" rx="3" ry="3" fill="url(#g26)" transform="translate(315 300) rotate(0) scale(20 20)"/>
<ellipse cx="0" cy="0" rx="3" ry="3" fill="url(#g27)" transform="translate(456 190) rotate(0) scale(18 14)"/>
<ellipse cx="0" cy="0" rx="3" ry="3" fill="url(#g28)" transform="translate(438 240) rotate(0) scale(14 32)"/>
<ellipse cx="0" cy="0" rx="3" ry="3" fill="url(#g29)" transform="translate(425 200) rotate(0) scale(20 14)"/>
<ellipse cx="0" cy="0" rx="3" ry="3" fill="url(#g30)" transform="translate(382 312) rotate(0) scale(24 14)"/>
<ellipse cx="0" cy="0" rx="3" ry="3" fill="url(#g31)" transform="translate(322 250) rotate(0) scale(12 16)"/>
<ellipse cx="0" cy="0" rx="50" ry="50" fill="url(#g32)" transform="translate(387 260.3) rotate(-5) scale(1.2 1)"/>
</g></g>
<ellipse cx="386.1" cy="260" rx="15.8" ry="13.3" transform="rotate(-5 386.1 260)" fill="none" stroke="#a88460" stroke-width="1.25" clip-path="url(#c4)"/>
<g clip-path="url(#c4)"><path d="M386.51 238.26C390.13 238.39 395.58 238.66 399.37 240.24C403.16 241.82 406.68 244.52 409.25 247.75C411.82 250.98 413.97 255.66 414.79 259.62C415.62 263.57 415.29 267.86 414.20 271.48C413.11 275.11 411.07 279.00 408.27 281.37C405.47 283.74 401.51 285.13 397.39 285.72C393.27 286.31 387.84 285.49 383.55 284.93C379.26 284.37 374.98 283.94 371.68 282.36C368.38 280.78 365.81 278.41 363.77 275.44C361.73 272.47 359.81 268.35 359.42 264.56C359.03 260.77 359.85 256.15 361.40 252.69C362.95 249.23 366.02 246.01 368.72 243.80C371.42 241.59 374.66 240.37 377.62 239.45C380.58 238.53 382.88 238.13 386.51 238.26Z" fill="none" stroke="#8e8e8e" stroke-width="1.0"/></g>
<path d="M380.9 258.4H385.5M383.2 256.09999999999997V260.7" stroke="#000" stroke-width="1.15" fill="none"/>
<path d="M304.6 184.1h3M457.9 184.1h-3M304.6 190.2h1.5M457.9 190.2h-1.5M304.6 196.3h1.5M457.9 196.3h-1.5M304.6 202.4h1.5M457.9 202.4h-1.5M304.6 208.5h1.5M457.9 208.5h-1.5M304.6 214.6h3M457.9 214.6h-3M304.6 220.7h1.5M457.9 220.7h-1.5M304.6 226.8h1.5M457.9 226.8h-1.5M304.6 232.9h1.5M457.9 232.9h-1.5M304.6 239.0h1.5M457.9 239.0h-1.5M304.6 245.1h3M457.9 245.1h-3M304.6 251.2h1.5M457.9 251.2h-1.5M304.6 257.3h1.5M457.9 257.3h-1.5M304.6 263.4h1.5M457.9 263.4h-1.5M304.6 269.5h1.5M457.9 269.5h-1.5M304.6 275.6h3M457.9 275.6h-3M304.6 281.7h1.5M457.9 281.7h-1.5M304.6 287.8h1.5M457.9 287.8h-1.5M304.6 293.9h1.5M457.9 293.9h-1.5M304.6 300.0h1.5M457.9 300.0h-1.5M304.6 306.1h3M457.9 306.1h-3M304.6 312.2h1.5M457.9 312.2h-1.5M304.6 318.3h1.5M457.9 318.3h-1.5M304.6 324.4h1.5M457.9 324.4h-1.5M304.6 330.5h1.5M457.9 330.5h-1.5M384.6 182.1v3M384.6 335.9v-3M318.90000000000003 182.1v1.5M318.90000000000003 335.9v-1.5M340.8 182.1v1.5M340.8 335.9v-1.5M362.70000000000005 182.1v1.5M362.70000000000005 335.9v-1.5M406.5 182.1v1.5M406.5 335.9v-1.5M428.40000000000003 182.1v1.5M428.40000000000003 335.9v-1.5M450.3 182.1v1.5M450.3 335.9v-1.5" stroke="#e8dada" stroke-width="0.6" fill="none" opacity="0.8"/>
<rect x="307" y="292.3" width="44.60000000000002" height="41.599999999999966" fill="#fff"/>
<ellipse cx="329.5" cy="313.1" rx="20.7" ry="17.8" transform="rotate(-22 329.5 313.1)" fill="none" stroke="#222" stroke-width="0.85"/>
<rect x="395.8" y="321" width="60.30000000000001" height="12.800000000000011" fill="#fff"/>
<path d="M397.9 323H454.2" stroke="#8a8a8a" stroke-width="1.3"/>
<text x="425.95000000000005" y="330.7" font-size="7.3" text-anchor="middle" fill="#111">5000 AU</text>
<rect x="304.6" y="182.1" width="153.29999999999995" height="153.79999999999998" fill="none" stroke="#1a0000" stroke-width="0.6"/>
<rect x="457.9" y="182.1" width="6.1" height="153.79999999999998" fill="url(#cbar)" stroke="#333" stroke-width="0.5"/>
<path d="M464.0 187.8h-2" stroke="#222" stroke-width="0.5"/>
<text x="465.9" y="190.70000000000002" font-size="7.3" fill="#111">0.0007</text>
<path d="M464.0 205h-2" stroke="#222" stroke-width="0.5"/>
<text x="465.9" y="207.9" font-size="7.3" fill="#111">0.0006</text>
<path d="M464.0 222.5h-2" stroke="#222" stroke-width="0.5"/>
<text x="465.9" y="225.4" font-size="7.3" fill="#111">0.0005</text>
<path d="M464.0 240h-2" stroke="#222" stroke-width="0.5"/>
<text x="465.9" y="242.9" font-size="7.3" fill="#111">0.0004</text>
<path d="M464.0 257.5h-2" stroke="#222" stroke-width="0.5"/>
<text x="465.9" y="260.4" font-size="7.3" fill="#111">0.0003</text>
<path d="M464.0 275h-2" stroke="#222" stroke-width="0.5"/>
<text x="465.9" y="277.9" font-size="7.3" fill="#111">0.0002</text>
<path d="M464.0 292.5h-2" stroke="#222" stroke-width="0.5"/>
<text x="465.9" y="295.4" font-size="7.3" fill="#111">0.0001</text>
<path d="M464.0 310h-2" stroke="#222" stroke-width="0.5"/>
<text x="465.9" y="312.9" font-size="7.3" fill="#111">0.0000</text>
<path d="M464.0 327.4h-2" stroke="#222" stroke-width="0.5"/>
<text x="465.9" y="330.29999999999995" font-size="7.3" fill="#111">−0.000</text>
<text x="309.8" y="193.7" font-size="9.35" class="w" font-weight="bold" fill="#fff">V1515 Cyg</text>
<text x="303.40000000000003" y="187.0" font-size="7.3" text-anchor="end" fill="#111">33.0</text>
<text x="303.40000000000003" y="217.5" font-size="7.3" text-anchor="end" fill="#111">30.0</text>
<text x="303.40000000000003" y="248.1" font-size="7.3" text-anchor="end" fill="#111">27.0</text>
<text x="303.40000000000003" y="278.7" font-size="7.3" text-anchor="end" fill="#111">24.0</text>
<text x="303.40000000000003" y="309.2" font-size="7.3" text-anchor="end" fill="#111">+42:12:21.0</text>
<text x="384.7" y="343.29999999999995" font-size="7.3" text-anchor="middle" fill="#111">20:23:48</text>
<text x="381.4" y="352.0" font-size="7.3" text-anchor="middle" fill="#111">RA (J2000)</text>
<g clip-path="url(#c5)"><g filter="url(#heat)">
<rect x="551.9" y="177.1" width="163.60000000000002" height="163.79999999999998" fill="rgb(60,60,60)"/>
<ellipse cx="0" cy="0" rx="3" ry="3" fill="url(#g33)" transform="translate(575 250) rotate(0) scale(14 40)"/>
<ellipse cx="0" cy="0" rx="3" ry="3" fill="url(#g34)" transform="translate(700 310) rotate(0) scale(20 35)"/>
<ellipse cx="0" cy="0" rx="3" ry="3" fill="url(#g35)" transform="translate(690 215) rotate(0) scale(14 30)"/>
<ellipse cx="0" cy="0" rx="3" ry="3" fill="url(#g36)" transform="translate(575 190) rotate(0) scale(20 12)"/>
<ellipse cx="0" cy="0" rx="3" ry="3" fill="url(#g37)" transform="translate(626 262) rotate(10) scale(27 68)"/>
<ellipse cx="0" cy="0" rx="3" ry="3" fill="url(#g38)" transform="translate(672 256) rotate(0) scale(18 20)"/>
<ellipse cx="0" cy="0" rx="40" ry="40" fill="url(#g39)" transform="translate(630 265.3) rotate(18) scale(1 1.42)"/>
</g></g>
<g clip-path="url(#c5)"><path d="M635.72 236.87C638.86 236.94 642.51 237.46 645.12 238.96C647.73 240.46 650.00 243.14 651.40 245.86C652.79 248.58 653.49 251.79 653.49 255.27C653.49 258.75 652.79 262.93 651.40 266.76C650.00 270.59 647.56 275.12 645.12 278.26C642.68 281.40 639.72 283.84 636.76 285.58C633.80 287.32 630.32 288.54 627.36 288.71C624.40 288.88 621.25 288.36 618.99 286.62C616.73 284.88 614.99 281.57 613.77 278.26C612.55 274.95 611.78 270.77 611.68 266.76C611.57 262.75 612.10 257.88 613.14 254.22C614.18 250.56 615.76 247.42 617.95 244.81C620.14 242.20 623.35 239.86 626.31 238.54C629.27 237.22 632.59 236.80 635.72 236.87Z" fill="none" stroke="#a08468" stroke-width="1.25"/></g>
<path d="M633.1 257.8H637.6999999999999M635.4 255.5V260.1" stroke="#000" stroke-width="1.15" fill="none"/>
<path d="M556.9 187.12h1.5M710.5 187.12h-1.5M556.9 193.2h3M710.5 193.2h-3M556.9 199.28h1.5M710.5 199.28h-1.5M556.9 205.36h1.5M710.5 205.36h-1.5M556.9 211.44h1.5M710.5 211.44h-1.5M556.9 217.52h1.5M710.5 217.52h-1.5M556.9 223.6h3M710.5 223.6h-3M556.9 229.68h1.5M710.5 229.68h-1.5M556.9 235.76h1.5M710.5 235.76h-1.5M556.9 241.84h1.5M710.5 241.84h-1.5M556.9 247.92h1.5M710.5 247.92h-1.5M556.9 254.0h3M710.5 254.0h-3M556.9 260.08h1.5M710.5 260.08h-1.5M556.9 266.16h1.5M710.5 266.16h-1.5M556.9 272.24h1.5M710.5 272.24h-1.5M556.9 278.32h1.5M710.5 278.32h-1.5M556.9 284.4h3M710.5 284.4h-3M556.9 290.48h1.5M710.5 290.48h-1.5M556.9 296.56h1.5M710.5 296.56h-1.5M556.9 302.64h1.5M710.5 302.64h-1.5M556.9 308.72h1.5M710.5 308.72h-1.5M556.9 314.8h3M710.5 314.8h-3M556.9 320.88h1.5M710.5 320.88h-1.5M556.9 326.96h1.5M710.5 326.96h-1.5M556.9 333.04h1.5M710.5 333.04h-1.5M582.9 182.1v3M582.9 335.9v-3M654.4 182.1v3M654.4 335.9v-3M568.6 182.1v1.5M568.6 335.9v-1.5M597.1999999999999 182.1v1.5M597.1999999999999 335.9v-1.5M611.5 182.1v1.5M611.5 335.9v-1.5M625.8 182.1v1.5M625.8 335.9v-1.5M640.1 182.1v1.5M640.1 335.9v-1.5M668.7 182.1v1.5M668.7 335.9v-1.5M683.0 182.1v1.5M683.0 335.9v-1.5M697.3 182.1v1.5M697.3 335.9v-1.5" stroke="#e8dada" stroke-width="0.6" fill="none" opacity="0.8"/>
<rect x="559.1" y="287.6" width="32.89999999999998" height="46.299999999999955" fill="#fff"/>
<ellipse cx="575.5" cy="310.8" rx="14.2" ry="21.4" transform="rotate(0 575.5 310.8)" fill="none" stroke="#222" stroke-width="0.85"/>
<rect x="627.9" y="321" width="80.89999999999998" height="12.800000000000011" fill="#fff"/>
<path d="M629.8 323H706.2" stroke="#8a8a8a" stroke-width="1.3"/>
<text x="668.3499999999999" y="330.7" font-size="7.3" text-anchor="middle" fill="#111">5000 AU</text>
<rect x="556.9" y="182.1" width="153.60000000000002" height="153.79999999999998" fill="none" stroke="#1a0000" stroke-width="0.6"/>
<rect x="710.5" y="182.1" width="6.2" height="153.79999999999998" fill="url(#cbar)" stroke="#333" stroke-width="0.5"/>
<path d="M716.7 185.3h-2" stroke="#222" stroke-width="0.5"/>
<text x="718.6" y="188.20000000000002" font-size="7.3" fill="#111">0.0006</text>
<path d="M716.7 204.93h-2" stroke="#222" stroke-width="0.5"/>
<text x="718.6" y="207.83" font-size="7.3" fill="#111">0.0005</text>
<path d="M716.7 224.56h-2" stroke="#222" stroke-width="0.5"/>
<text x="718.6" y="227.46" font-size="7.3" fill="#111">0.0004</text>
<path d="M716.7 244.19h-2" stroke="#222" stroke-width="0.5"/>
<text x="718.6" y="247.09" font-size="7.3" fill="#111">0.0003</text>
<path d="M716.7 263.82h-2" stroke="#222" stroke-width="0.5"/>
<text x="718.6" y="266.71999999999997" font-size="7.3" fill="#111">0.0002</text>
<path d="M716.7 283.45h-2" stroke="#222" stroke-width="0.5"/>
<text x="718.6" y="286.34999999999997" font-size="7.3" fill="#111">0.0001</text>
<path d="M716.7 303.08h-2" stroke="#222" stroke-width="0.5"/>
<text x="718.6" y="305.97999999999996" font-size="7.3" fill="#111">0.0000</text>
<path d="M716.7 322.71h-2" stroke="#222" stroke-width="0.5"/>
<text x="718.6" y="325.60999999999996" font-size="7.3" fill="#111">−0.0001</text>
<text x="562.1" y="193.7" font-size="9.35" class="w" font-weight="bold" fill="#fff">V733 Cep</text>
<text x="555.6999999999999" y="196.1" font-size="7.3" text-anchor="end" fill="#111">30.0</text>
<text x="555.6999999999999" y="226.5" font-size="7.3" text-anchor="end" fill="#111">27.0</text>
<text x="555.6999999999999" y="256.9" font-size="7.3" text-anchor="end" fill="#111">24.0</text>
<text x="555.6999999999999" y="287.29999999999995" font-size="7.3" text-anchor="end" fill="#111">21.0</text>
<text x="555.6999999999999" y="317.59999999999997" font-size="7.3" text-anchor="end" fill="#111">+62:32:18.0</text>
<text x="582.9" y="343.29999999999995" font-size="7.3" text-anchor="middle" fill="#111">34</text>
<text x="653.4" y="343.29999999999995" font-size="7.3" text-anchor="middle" fill="#111">22:53:33</text>
<text x="634" y="352.0" font-size="7.3" text-anchor="middle" fill="#111">RA (J2000)</text>
<text x="756.4" y="259.0" font-size="7.3" text-anchor="middle" fill="#111" transform="rotate(-90 756.4 259.0)">Jy/beam</text>
</svg></body></html>
